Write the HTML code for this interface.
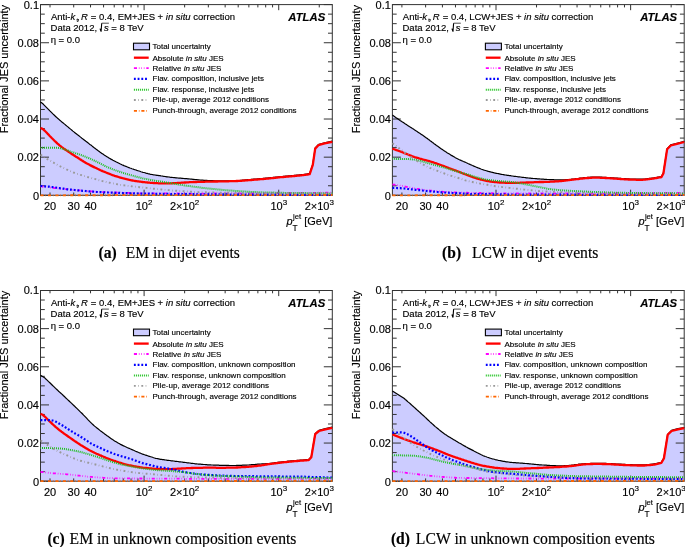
<!DOCTYPE html>
<html><head><meta charset="utf-8"><style>
html,body{margin:0;padding:0;background:#fff;width:685px;height:547px;overflow:hidden}
svg{display:block;will-change:transform}
text{stroke:#000;stroke-width:0.15px}
.h{}
</style></head><body>
<svg width="685" height="547" viewBox="0 0 685 547" font-family="'Liberation Sans', sans-serif" fill="#000">
<rect width="685" height="547" fill="#fff"/>
<g transform="translate(40.50,4.60)">
<path d="M0.0,97.5 2.4,99.2 3.4,100.2 4.4,101.2 5.4,102.2 6.4,103.2 7.4,104.2 8.4,105.2 9.4,106.3 10.4,107.3 11.4,108.3 12.4,109.3 13.4,110.2 14.4,111.2 15.4,112.1 16.4,113.0 17.4,113.9 18.4,114.8 19.4,115.7 20.4,116.5 21.4,117.4 22.4,118.2 23.4,119.0 24.4,119.8 25.4,120.7 26.4,121.5 27.4,122.3 28.4,123.2 29.4,124.0 30.4,124.8 31.4,125.6 32.4,126.5 33.4,127.3 34.4,128.1 35.4,128.9 36.4,129.7 37.4,130.5 38.4,131.2 39.4,132.0 40.4,132.8 41.4,133.6 42.4,134.3 43.4,135.1 44.4,135.9 45.4,136.7 46.4,137.4 47.4,138.2 48.4,139.0 49.4,139.8 50.4,140.5 51.4,141.3 52.4,142.1 53.4,142.9 54.4,143.6 55.4,144.4 56.4,145.1 57.4,145.9 58.4,146.6 59.4,147.4 60.4,148.1 61.4,148.8 62.4,149.5 63.4,150.2 64.4,150.8 65.4,151.5 66.4,152.1 67.4,152.7 68.4,153.3 69.4,153.9 70.4,154.5 71.4,155.0 72.4,155.6 73.4,156.1 74.4,156.6 75.4,157.2 76.4,157.7 77.4,158.2 78.4,158.7 79.4,159.2 80.4,159.6 81.4,160.1 82.4,160.5 83.4,161.0 84.4,161.4 85.4,161.8 86.4,162.2 87.4,162.6 88.4,163.0 89.4,163.4 90.4,163.7 91.4,164.1 92.4,164.4 93.4,164.8 94.4,165.1 95.4,165.4 96.4,165.8 97.4,166.1 98.4,166.4 99.4,166.7 100.4,167.1 101.4,167.4 102.4,167.7 103.4,167.9 104.4,168.2 105.4,168.5 106.4,168.7 107.4,169.0 108.4,169.2 109.4,169.5 110.4,169.7 111.4,169.9 112.4,170.1 113.4,170.2 114.4,170.4 115.4,170.5 116.4,170.7 117.4,170.8 118.4,171.0 119.4,171.1 120.4,171.3 121.4,171.4 122.4,171.6 123.4,171.7 124.4,171.9 125.4,172.0 126.4,172.2 127.4,172.3 128.4,172.4 129.4,172.6 130.4,172.7 131.4,172.8 132.4,172.9 133.4,173.0 134.4,173.1 135.4,173.2 136.4,173.3 137.4,173.4 138.4,173.5 139.4,173.6 140.4,173.6 141.4,173.7 142.4,173.8 143.4,173.9 144.4,174.0 145.4,174.1 146.4,174.1 147.4,174.2 148.4,174.3 149.4,174.4 150.4,174.5 151.4,174.6 152.4,174.7 153.4,174.8 154.4,174.9 155.4,175.0 156.4,175.1 157.4,175.2 158.4,175.3 159.4,175.4 160.4,175.5 161.4,175.5 162.4,175.6 163.4,175.7 164.4,175.7 165.4,175.8 166.4,175.8 167.4,175.9 168.4,175.9 169.4,176.0 170.4,176.0 171.4,176.1 172.4,176.1 173.4,176.1 174.4,176.2 175.4,176.2 176.4,176.2 177.4,176.2 178.4,176.2 179.4,176.2 180.4,176.3 181.4,176.3 182.4,176.3 183.4,176.3 184.4,176.3 185.4,176.3 186.4,176.3 187.4,176.3 188.4,176.2 189.4,176.2 190.4,176.2 191.4,176.2 192.4,176.1 193.4,176.1 194.4,176.1 195.4,176.1 196.4,176.0 197.4,176.0 197.9,176.0 198.9,175.9 199.9,175.8 200.9,175.7 201.9,175.6 202.9,175.5 203.9,175.4 204.9,175.3 205.9,175.2 206.9,175.1 207.9,175.1 208.9,175.0 209.9,174.9 210.9,174.8 211.9,174.7 212.9,174.6 213.9,174.5 214.9,174.5 215.9,174.4 216.9,174.3 217.9,174.2 218.9,174.1 219.9,174.1 220.9,174.0 221.9,173.9 222.9,173.8 223.9,173.7 224.9,173.6 225.9,173.5 226.9,173.4 227.9,173.3 228.9,173.2 229.9,173.1 230.9,173.0 231.9,172.9 232.9,172.8 233.9,172.7 234.9,172.6 235.9,172.5 236.9,172.4 237.9,172.3 238.9,172.2 239.9,172.1 240.9,172.0 241.9,171.9 242.9,171.8 243.9,171.7 244.9,171.6 245.9,171.5 246.9,171.4 247.9,171.3 248.9,171.3 249.9,171.2 250.9,171.1 251.9,171.0 252.9,170.9 253.9,170.8 254.9,170.7 255.9,170.6 256.9,170.5 257.9,170.4 258.9,170.3 259.9,170.2 260.9,170.1 261.9,170.0 262.9,169.9 263.9,169.7 264.9,169.6 265.9,169.4 266.9,169.3 267.9,169.1 268.9,169.0 269.2,168.9 272.3,159.6 274.7,143.4 277.9,140.0 284.1,138.2 291.8,136.6 L291.80,190.70 L0,190.70 Z" fill="#ccccff" stroke="none"/>
<rect x="0" y="0" width="291.80" height="190.70" fill="none" stroke="#333" stroke-width="1"/>
<path d="M0,190.70h8.50 M291.80,190.70h-8.50 M0,181.16h4.30 M291.80,181.16h-4.30 M0,171.63h4.30 M291.80,171.63h-4.30 M0,162.09h4.30 M291.80,162.09h-4.30 M0,152.56h8.50 M291.80,152.56h-8.50 M0,143.02h4.30 M291.80,143.02h-4.30 M0,133.49h4.30 M291.80,133.49h-4.30 M0,123.95h4.30 M291.80,123.95h-4.30 M0,114.42h8.50 M291.80,114.42h-8.50 M0,104.89h4.30 M291.80,104.89h-4.30 M0,95.35h4.30 M291.80,95.35h-4.30 M0,85.82h4.30 M291.80,85.82h-4.30 M0,76.28h8.50 M291.80,76.28h-8.50 M0,66.74h4.30 M291.80,66.74h-4.30 M0,57.21h4.30 M291.80,57.21h-4.30 M0,47.68h4.30 M291.80,47.68h-4.30 M0,38.14h8.50 M291.80,38.14h-8.50 M0,28.60h4.30 M291.80,28.60h-4.30 M0,19.07h4.30 M291.80,19.07h-4.30 M0,9.53h4.30 M291.80,9.53h-4.30 M0,0.00h8.50 M291.80,0.00h-8.50 M9.50,190.70v-2.80 M9.50,0v2.80 M33.21,190.70v-2.80 M33.21,0v2.80 M50.03,190.70v-2.80 M50.03,0v2.80 M63.07,190.70v-2.80 M63.07,0v2.80 M73.73,190.70v-2.80 M73.73,0v2.80 M82.75,190.70v-2.80 M82.75,0v2.80 M90.55,190.70v-2.80 M90.55,0v2.80 M97.44,190.70v-2.80 M97.44,0v2.80 M103.60,190.70v-5.60 M103.60,0v5.60 M144.13,190.70v-2.80 M144.13,0v2.80 M167.83,190.70v-2.80 M167.83,0v2.80 M184.65,190.70v-2.80 M184.65,0v2.80 M197.70,190.70v-2.80 M197.70,0v2.80 M208.36,190.70v-2.80 M208.36,0v2.80 M217.37,190.70v-2.80 M217.37,0v2.80 M225.18,190.70v-2.80 M225.18,0v2.80 M232.07,190.70v-2.80 M232.07,0v2.80 M238.23,190.70v-5.60 M238.23,0v5.60 M278.75,190.70v-2.80 M278.75,0v2.80" stroke="#333" stroke-width="1" fill="none"/>
<path d="M0.0,97.5 2.4,99.2 3.4,100.2 4.4,101.2 5.4,102.2 6.4,103.2 7.4,104.2 8.4,105.2 9.4,106.3 10.4,107.3 11.4,108.3 12.4,109.3 13.4,110.2 14.4,111.2 15.4,112.1 16.4,113.0 17.4,113.9 18.4,114.8 19.4,115.7 20.4,116.5 21.4,117.4 22.4,118.2 23.4,119.0 24.4,119.8 25.4,120.7 26.4,121.5 27.4,122.3 28.4,123.2 29.4,124.0 30.4,124.8 31.4,125.6 32.4,126.5 33.4,127.3 34.4,128.1 35.4,128.9 36.4,129.7 37.4,130.5 38.4,131.2 39.4,132.0 40.4,132.8 41.4,133.6 42.4,134.3 43.4,135.1 44.4,135.9 45.4,136.7 46.4,137.4 47.4,138.2 48.4,139.0 49.4,139.8 50.4,140.5 51.4,141.3 52.4,142.1 53.4,142.9 54.4,143.6 55.4,144.4 56.4,145.1 57.4,145.9 58.4,146.6 59.4,147.4 60.4,148.1 61.4,148.8 62.4,149.5 63.4,150.2 64.4,150.8 65.4,151.5 66.4,152.1 67.4,152.7 68.4,153.3 69.4,153.9 70.4,154.5 71.4,155.0 72.4,155.6 73.4,156.1 74.4,156.6 75.4,157.2 76.4,157.7 77.4,158.2 78.4,158.7 79.4,159.2 80.4,159.6 81.4,160.1 82.4,160.5 83.4,161.0 84.4,161.4 85.4,161.8 86.4,162.2 87.4,162.6 88.4,163.0 89.4,163.4 90.4,163.7 91.4,164.1 92.4,164.4 93.4,164.8 94.4,165.1 95.4,165.4 96.4,165.8 97.4,166.1 98.4,166.4 99.4,166.7 100.4,167.1 101.4,167.4 102.4,167.7 103.4,167.9 104.4,168.2 105.4,168.5 106.4,168.7 107.4,169.0 108.4,169.2 109.4,169.5 110.4,169.7 111.4,169.9 112.4,170.1 113.4,170.2 114.4,170.4 115.4,170.5 116.4,170.7 117.4,170.8 118.4,171.0 119.4,171.1 120.4,171.3 121.4,171.4 122.4,171.6 123.4,171.7 124.4,171.9 125.4,172.0 126.4,172.2 127.4,172.3 128.4,172.4 129.4,172.6 130.4,172.7 131.4,172.8 132.4,172.9 133.4,173.0 134.4,173.1 135.4,173.2 136.4,173.3 137.4,173.4 138.4,173.5 139.4,173.6 140.4,173.6 141.4,173.7 142.4,173.8 143.4,173.9 144.4,174.0 145.4,174.1 146.4,174.1 147.4,174.2 148.4,174.3 149.4,174.4 150.4,174.5 151.4,174.6 152.4,174.7 153.4,174.8 154.4,174.9 155.4,175.0 156.4,175.1 157.4,175.2 158.4,175.3 159.4,175.4 160.4,175.5 161.4,175.5 162.4,175.6 163.4,175.7 164.4,175.7 165.4,175.8 166.4,175.8 167.4,175.9 168.4,175.9 169.4,176.0 170.4,176.0 171.4,176.1 172.4,176.1 173.4,176.1 174.4,176.2 175.4,176.2 176.4,176.2 177.4,176.2 178.4,176.2 179.4,176.2 180.4,176.3 181.4,176.3 182.4,176.3 183.4,176.3 184.4,176.3 185.4,176.3 186.4,176.3 187.4,176.3 188.4,176.2 189.4,176.2 190.4,176.2 191.4,176.2 192.4,176.1 193.4,176.1 194.4,176.1 195.4,176.1 196.4,176.0 197.4,176.0 197.9,176.0 198.9,175.9 199.9,175.8 200.9,175.7 201.9,175.6 202.9,175.5 203.9,175.4 204.9,175.3 205.9,175.2 206.9,175.1 207.9,175.1 208.9,175.0 209.9,174.9 210.9,174.8 211.9,174.7 212.9,174.6 213.9,174.5 214.9,174.5 215.9,174.4 216.9,174.3 217.9,174.2 218.9,174.1 219.9,174.1 220.9,174.0 221.9,173.9 222.9,173.8 223.9,173.7 224.9,173.6 225.9,173.5 226.9,173.4 227.9,173.3 228.9,173.2 229.9,173.1 230.9,173.0 231.9,172.9 232.9,172.8 233.9,172.7 234.9,172.6 235.9,172.5 236.9,172.4 237.9,172.3 238.9,172.2 239.9,172.1 240.9,172.0 241.9,171.9 242.9,171.8 243.9,171.7 244.9,171.6 245.9,171.5 246.9,171.4 247.9,171.3 248.9,171.3 249.9,171.2 250.9,171.1 251.9,171.0 252.9,170.9 253.9,170.8 254.9,170.7 255.9,170.6 256.9,170.5 257.9,170.4 258.9,170.3 259.9,170.2 260.9,170.1 261.9,170.0 262.9,169.9 263.9,169.7 264.9,169.6 265.9,169.4 266.9,169.3 267.9,169.1 268.9,169.0 269.2,168.9 272.3,159.6 274.7,143.4 277.9,140.0 284.1,138.2 291.8,136.6" fill="none" stroke="#000" stroke-width="1.2"/>
<path d="M0.0,123.4 1.0,123.7 2.0,124.3 3.0,125.1 4.0,125.9 5.0,126.9 6.0,127.9 7.0,129.0 8.0,130.0 9.0,131.1 10.0,132.1 11.0,133.2 12.0,134.2 13.0,135.2 14.0,136.2 15.0,137.1 16.0,138.0 17.0,139.0 18.0,139.8 19.0,140.7 20.0,141.5 21.0,142.3 22.0,143.0 23.0,143.8 24.0,144.4 25.0,145.1 26.0,145.8 27.0,146.5 28.0,147.1 29.0,147.8 30.0,148.5 31.0,149.2 32.0,149.9 33.0,150.5 34.0,151.1 35.0,151.8 36.0,152.4 37.0,153.0 38.0,153.6 39.0,154.3 40.0,154.9 41.0,155.6 42.0,156.2 43.0,156.9 44.0,157.5 45.0,158.1 46.0,158.7 47.0,159.2 48.0,159.7 49.0,160.2 50.0,160.8 51.0,161.3 52.0,161.8 53.0,162.3 54.0,162.8 55.0,163.2 56.0,163.7 57.0,164.2 58.0,164.6 59.0,165.1 60.0,165.6 61.0,166.0 62.0,166.5 63.0,166.9 64.0,167.3 65.0,167.7 66.0,168.1 67.0,168.5 68.0,168.9 69.0,169.3 70.0,169.7 71.0,170.1 72.0,170.5 73.0,170.8 74.0,171.2 75.0,171.5 76.0,171.8 77.0,172.1 78.0,172.4 79.0,172.7 80.0,173.0 81.0,173.3 82.0,173.6 83.0,173.8 84.0,174.1 85.0,174.3 86.0,174.6 87.0,174.8 88.0,175.1 89.0,175.3 90.0,175.5 91.0,175.7 92.0,175.9 93.0,176.1 94.0,176.2 95.0,176.4 96.0,176.5 97.0,176.7 98.0,176.8 99.0,177.0 100.0,177.1 101.0,177.3 102.0,177.4 103.0,177.5 104.0,177.6 105.0,177.7 106.0,177.8 107.0,177.9 108.0,178.0 109.0,178.1 110.0,178.2 111.0,178.3 112.0,178.3 113.0,178.4 114.0,178.5 115.0,178.5 116.0,178.6 117.0,178.6 118.0,178.7 119.0,178.7 120.0,178.8 121.0,178.8 122.0,178.8 123.0,178.8 124.0,178.8 125.0,178.8 126.0,178.8 127.0,178.8 128.0,178.8 129.0,178.7 130.0,178.7 131.0,178.7 132.0,178.6 133.0,178.6 134.0,178.5 135.0,178.5 136.0,178.5 137.0,178.4 138.0,178.3 139.0,178.3 140.0,178.2 141.0,178.1 142.0,178.1 143.0,178.0 144.0,177.9 145.0,177.9 146.0,177.8 147.0,177.8 148.0,177.7 149.0,177.6 150.0,177.6 151.0,177.5 152.0,177.5 153.0,177.4 154.0,177.4 155.0,177.4 156.0,177.4 157.0,177.3 158.0,177.3 159.0,177.3 160.0,177.3 161.0,177.2 162.0,177.2 163.0,177.2 164.0,177.2 165.0,177.1 166.0,177.1 167.0,177.1 168.0,177.1 169.0,177.0 170.0,177.0 171.0,177.0 172.0,177.0 173.0,176.9 174.0,176.9 175.0,176.9 176.0,176.9 177.0,176.9 178.0,176.8 179.0,176.8 180.0,176.8 181.0,176.8 182.0,176.8 183.0,176.8 184.0,176.7 185.0,176.7 186.0,176.7 187.0,176.7 188.0,176.7 189.0,176.6 190.0,176.6 191.0,176.6 192.0,176.6 193.0,176.5 194.0,176.5 195.0,176.5 196.0,176.4 197.0,176.4 198.0,176.3 199.0,176.3 200.0,176.2 201.0,176.2 202.0,176.1 203.0,176.0 204.0,175.9 205.0,175.8 206.0,175.8 207.0,175.7 208.0,175.6 209.0,175.5 210.0,175.5 211.0,175.4 212.0,175.3 213.0,175.2 214.0,175.1 215.0,175.1 216.0,175.0 217.0,174.9 218.0,174.8 219.0,174.7 220.0,174.6 221.0,174.6 222.0,174.5 223.0,174.4 224.0,174.3 225.0,174.2 226.0,174.1 227.0,174.0 228.0,173.9 229.0,173.8 230.0,173.7 231.0,173.6 232.0,173.5 233.0,173.4 234.0,173.3 235.0,173.2 236.0,173.0 237.0,172.9 238.0,172.8 239.0,172.7 240.0,172.6 241.0,172.6 242.0,172.5 243.0,172.4 244.0,172.3 245.0,172.2 246.0,172.1 247.0,172.0 248.0,171.9 249.0,171.8 250.0,171.8 251.0,171.7 252.0,171.6 253.0,171.5 254.0,171.4 255.0,171.3 256.0,171.2 257.0,171.1 258.0,171.0 259.0,170.9 260.0,170.8 261.0,170.7 262.0,170.6 263.0,170.5 264.0,170.3 265.0,170.2 266.0,170.0 267.0,169.9 268.0,169.7 269.0,169.6 269.2,169.5 272.3,160.2 274.7,144.0 277.9,140.6 284.1,138.8 291.8,137.2" fill="none" stroke="#ff0000" stroke-width="2.30" stroke-linejoin="round"/>
<path d="M0.0,181.7 1.0,181.8 2.0,181.9 3.0,182.1 4.0,182.2 5.0,182.3 6.0,182.4 7.0,182.5 8.0,182.6 9.0,182.8 10.0,182.9 11.0,183.0 12.0,183.1 13.0,183.2 14.0,183.4 15.0,183.5 16.0,183.6 17.0,183.7 18.0,183.8 19.0,183.9 20.0,184.0 21.0,184.1 22.0,184.2 23.0,184.3 24.0,184.4 25.0,184.5 26.0,184.6 27.0,184.7 28.0,184.8 29.0,184.9 30.0,185.0 31.0,185.1 32.0,185.2 33.0,185.3 34.0,185.4 35.0,185.5 36.0,185.6 37.0,185.7 38.0,185.8 39.0,185.8 40.0,185.9 41.0,186.0 42.0,186.1 43.0,186.2 44.0,186.2 45.0,186.3 46.0,186.4 47.0,186.5 48.0,186.5 49.0,186.6 50.0,186.7 51.0,186.8 52.0,186.8 53.0,186.9 54.0,187.0 55.0,187.1 56.0,187.1 57.0,187.2 58.0,187.3 59.0,187.3 60.0,187.4 61.0,187.4 62.0,187.5 63.0,187.5 64.0,187.5 65.0,187.6 66.0,187.6 67.0,187.6 68.0,187.7 69.0,187.7 70.0,187.7 71.0,187.8 72.0,187.8 73.0,187.8 74.0,187.9 75.0,187.9 76.0,187.9 77.0,188.0 78.0,188.0 79.0,188.0 80.0,188.1 81.0,188.1 82.0,188.1 83.0,188.2 84.0,188.2 85.0,188.2 86.0,188.3 87.0,188.3 88.0,188.3 89.0,188.4 90.0,188.4 91.0,188.4 92.0,188.5 93.0,188.5 94.0,188.5 95.0,188.6 96.0,188.6 97.0,188.6 98.0,188.6 99.0,188.7 100.0,188.7 101.0,188.7 102.0,188.7 103.0,188.7 104.0,188.7 105.0,188.7 106.0,188.7 107.0,188.7 108.0,188.7 109.0,188.7 110.0,188.8 111.0,188.8 112.0,188.8 113.0,188.8 114.0,188.8 115.0,188.8 116.0,188.8 117.0,188.8 118.0,188.8 119.0,188.8 120.0,188.8 121.0,188.8 122.0,188.8 123.0,188.8 124.0,188.8 125.0,188.8 126.0,188.8 127.0,188.8 128.0,188.8 129.0,188.8 130.0,188.9 131.0,188.9 132.0,188.9 133.0,188.9 134.0,188.9 135.0,188.9 136.0,188.9 137.0,188.9 138.0,188.9 139.0,188.9 140.0,188.9 141.0,188.9 142.0,188.9 143.0,188.9 144.0,188.9 145.0,188.9 146.0,188.9 147.0,188.9 148.0,188.9 149.0,188.9 150.0,189.0 151.0,189.0 152.0,189.0 153.0,189.0 154.0,189.0 155.0,189.0 156.0,189.0 157.0,189.0 158.0,189.0 159.0,189.0 160.0,189.0 161.0,189.0 162.0,189.0 163.0,189.0 164.0,189.0 165.0,189.0 166.0,189.0 167.0,189.0 168.0,189.0 169.0,189.0 170.0,188.9 171.0,188.9 172.0,188.9 173.0,188.9 174.0,188.9 175.0,188.9 176.0,188.9 177.0,188.9 178.0,188.9 179.0,188.9 180.0,188.9 181.0,188.9 182.0,188.9 183.0,188.9 184.0,188.9 185.0,188.9 186.0,188.9 187.0,188.9 188.0,188.9 189.0,188.9 190.0,188.8 191.0,188.8 192.0,188.8 193.0,188.8 194.0,188.8 195.0,188.8 196.0,188.8 197.0,188.8 198.0,188.8 199.0,188.8 200.0,188.8 201.0,188.8 202.0,188.8 203.0,188.8 204.0,188.8 205.0,188.8 206.0,188.8 207.0,188.8 208.0,188.8 209.0,188.8 210.0,188.7 211.0,188.7 212.0,188.7 213.0,188.7 214.0,188.7 215.0,188.7 216.0,188.7 217.0,188.7 218.0,188.7 219.0,188.7 220.0,188.7 221.0,188.7 222.0,188.7 223.0,188.7 224.0,188.7 225.0,188.6 226.0,188.6 227.0,188.6 228.0,188.6 229.0,188.6 230.0,188.6 231.0,188.6 232.0,188.6 233.0,188.6 234.0,188.6 235.0,188.5 236.0,188.5 237.0,188.5 238.0,188.5 239.0,188.5 240.0,188.5 241.0,188.5 242.0,188.5 243.0,188.5 244.0,188.5 245.0,188.5 246.0,188.4 247.0,188.4 248.0,188.4 249.0,188.4 250.0,188.4 251.0,188.4 252.0,188.4 253.0,188.4 254.0,188.4 255.0,188.4 256.0,188.3 257.0,188.3 258.0,188.3 259.0,188.3 260.0,188.3 261.0,188.3 262.0,188.3 263.0,188.3 264.0,188.3 265.0,188.3 266.0,188.2 267.0,188.2 268.0,188.2 269.0,188.2 270.0,188.2 271.0,188.2 272.0,188.2 273.0,188.2 274.0,188.2 275.0,188.2 276.0,188.2 277.0,188.1 278.0,188.1 279.0,188.1 280.0,188.1 281.0,188.1 282.0,188.1 283.0,188.1 284.0,188.1 285.0,188.1 286.0,188.1 287.0,188.0 288.0,188.0 289.0,188.0 290.0,188.0 291.0,188.0 291.8,188.0" fill="none" stroke="#ff00ff" stroke-width="1.80" stroke-dasharray="3.10 1.86 0.62 1.86 0.62 1.86 0.62 1.86" stroke-linejoin="round"/>
<path d="M0.0,181.3 1.0,181.4 2.0,181.5 3.0,181.6 4.0,181.7 5.0,181.8 6.0,181.9 7.0,182.0 8.0,182.0 9.0,182.1 10.0,182.2 11.0,182.4 12.0,182.5 13.0,182.6 14.0,182.8 15.0,182.9 16.0,183.1 17.0,183.2 18.0,183.4 19.0,183.5 20.0,183.7 21.0,183.8 22.0,184.0 23.0,184.1 24.0,184.3 25.0,184.4 26.0,184.6 27.0,184.7 28.0,184.8 29.0,184.9 30.0,185.0 31.0,185.1 32.0,185.2 33.0,185.3 34.0,185.4 35.0,185.5 36.0,185.6 37.0,185.7 38.0,185.8 39.0,185.9 40.0,186.0 41.0,186.1 42.0,186.2 43.0,186.2 44.0,186.3 45.0,186.4 46.0,186.5 47.0,186.6 48.0,186.7 49.0,186.8 50.0,186.9 51.0,187.0 52.0,187.1 53.0,187.1 54.0,187.2 55.0,187.3 56.0,187.4 57.0,187.4 58.0,187.5 59.0,187.5 60.0,187.5 61.0,187.6 62.0,187.6 63.0,187.7 64.0,187.7 65.0,187.8 66.0,187.8 67.0,187.9 68.0,187.9 69.0,187.9 70.0,188.0 71.0,188.0 72.0,188.1 73.0,188.1 74.0,188.1 75.0,188.2 76.0,188.2 77.0,188.2 78.0,188.3 79.0,188.3 80.0,188.4 81.0,188.4 82.0,188.4 83.0,188.5 84.0,188.5 85.0,188.5 86.0,188.5 87.0,188.6 88.0,188.6 89.0,188.7 90.0,188.7 91.0,188.7 92.0,188.7 93.0,188.8 94.0,188.8 95.0,188.8 96.0,188.9 97.0,188.9 98.0,188.9 99.0,189.0 100.0,189.0 101.0,189.0 102.0,189.0 103.0,189.0 104.0,189.1 105.0,189.1 106.0,189.1 107.0,189.1 108.0,189.1 109.0,189.1 110.0,189.1 111.0,189.1 112.0,189.1 113.0,189.2 114.0,189.2 115.0,189.2 116.0,189.2 117.0,189.2 118.0,189.2 119.0,189.2 120.0,189.2 121.0,189.3 122.0,189.3 123.0,189.3 124.0,189.3 125.0,189.3 126.0,189.3 127.0,189.3 128.0,189.3 129.0,189.3 130.0,189.4 131.0,189.4 132.0,189.4 133.0,189.4 134.0,189.4 135.0,189.4 136.0,189.4 137.0,189.4 138.0,189.4 139.0,189.5 140.0,189.5 141.0,189.5 142.0,189.5 143.0,189.5 144.0,189.5 145.0,189.5 146.0,189.5 147.0,189.6 148.0,189.6 149.0,189.6 150.0,189.6 151.0,189.6 152.0,189.6 153.0,189.6 154.0,189.6 155.0,189.6 156.0,189.7 157.0,189.7 158.0,189.7 159.0,189.7 160.0,189.7 161.0,189.7 162.0,189.7 163.0,189.7 164.0,189.7 165.0,189.7 166.0,189.7 167.0,189.7 168.0,189.7 169.0,189.8 170.0,189.8 171.0,189.8 172.0,189.8 173.0,189.8 174.0,189.8 175.0,189.8 176.0,189.8 177.0,189.8 178.0,189.8 179.0,189.8 180.0,189.8 181.0,189.8 182.0,189.8 183.0,189.8 184.0,189.8 185.0,189.8 186.0,189.8 187.0,189.8 188.0,189.9 189.0,189.9 190.0,189.9 191.0,189.9 192.0,189.9 193.0,189.9 194.0,189.9 195.0,189.9 196.0,189.9 197.0,189.9 198.0,189.9 199.0,189.9 200.0,189.9 201.0,189.9 202.0,189.9 203.0,189.9 204.0,189.9 205.0,189.9 206.0,189.9 207.0,190.0 208.0,190.0 209.0,190.0 210.0,190.0 211.0,190.0 212.0,190.0 213.0,190.0 214.0,190.0 215.0,190.0 216.0,190.0 217.0,190.0 218.0,190.0 219.0,190.0 220.0,190.0 221.0,190.0 222.0,190.0 223.0,190.0 224.0,190.0 225.0,190.0 226.0,190.1 227.0,190.1 228.0,190.1 229.0,190.1 230.0,190.1 231.0,190.1 232.0,190.1 233.0,190.1 234.0,190.1 235.0,190.1 236.0,190.1 237.0,190.1 238.0,190.1 239.0,190.1 240.0,190.1 241.0,190.1 242.0,190.1 243.0,190.1 244.0,190.1 245.0,190.2 246.0,190.2 247.0,190.2 248.0,190.2 249.0,190.2 250.0,190.2 251.0,190.2 252.0,190.2 253.0,190.2 254.0,190.2 255.0,190.2 256.0,190.2 257.0,190.2 258.0,190.2 259.0,190.2 260.0,190.2 261.0,190.2 262.0,190.2 263.0,190.2 264.0,190.3 265.0,190.3 266.0,190.3 267.0,190.3 268.0,190.3 269.0,190.3 270.0,190.3 271.0,190.3 272.0,190.3 273.0,190.3 274.0,190.3 275.0,190.3 276.0,190.3 277.0,190.3 278.0,190.3 279.0,190.3 280.0,190.3 281.0,190.3 282.0,190.3 283.0,190.4 284.0,190.4 285.0,190.4 286.0,190.4 287.0,190.4 288.0,190.4 289.0,190.4 290.0,190.4 291.0,190.4 291.8,190.4" fill="none" stroke="#0000ff" stroke-width="2.20" stroke-dasharray="1.86 1.86" stroke-linejoin="round"/>
<path d="M0.0,143.1 1.0,143.1 2.0,143.1 3.0,143.1 4.0,143.1 5.0,143.1 6.0,143.1 7.0,143.1 8.0,143.1 9.0,143.1 10.0,143.2 11.0,143.2 12.0,143.2 13.0,143.2 14.0,143.2 15.0,143.2 16.0,143.2 17.0,143.2 18.0,143.3 19.0,143.4 20.0,143.6 21.0,143.8 22.0,144.1 23.0,144.4 24.0,144.8 25.0,145.2 26.0,145.5 27.0,145.9 28.0,146.2 29.0,146.6 30.0,146.9 31.0,147.3 32.0,147.6 33.0,147.9 34.0,148.2 35.0,148.6 36.0,148.9 37.0,149.2 38.0,149.6 39.0,149.9 40.0,150.3 41.0,150.6 42.0,151.0 43.0,151.4 44.0,151.7 45.0,152.1 46.0,152.6 47.0,153.0 48.0,153.4 49.0,153.9 50.0,154.3 51.0,154.8 52.0,155.2 53.0,155.7 54.0,156.1 55.0,156.6 56.0,157.1 57.0,157.6 58.0,158.1 59.0,158.6 60.0,159.1 61.0,159.6 62.0,160.1 63.0,160.6 64.0,161.1 65.0,161.5 66.0,162.0 67.0,162.4 68.0,162.9 69.0,163.3 70.0,163.7 71.0,164.2 72.0,164.6 73.0,165.0 74.0,165.3 75.0,165.7 76.0,166.1 77.0,166.4 78.0,166.8 79.0,167.1 80.0,167.5 81.0,167.8 82.0,168.1 83.0,168.4 84.0,168.7 85.0,169.0 86.0,169.3 87.0,169.6 88.0,169.9 89.0,170.2 90.0,170.5 91.0,170.7 92.0,171.0 93.0,171.3 94.0,171.6 95.0,171.8 96.0,172.1 97.0,172.4 98.0,172.6 99.0,172.9 100.0,173.2 101.0,173.4 102.0,173.7 103.0,173.9 104.0,174.1 105.0,174.3 106.0,174.5 107.0,174.7 108.0,174.9 109.0,175.1 110.0,175.3 111.0,175.5 112.0,175.6 113.0,175.8 114.0,176.0 115.0,176.1 116.0,176.3 117.0,176.5 118.0,176.6 119.0,176.8 120.0,176.9 121.0,177.1 122.0,177.2 123.0,177.3 124.0,177.5 125.0,177.6 126.0,177.8 127.0,177.9 128.0,178.1 129.0,178.2 130.0,178.4 131.0,178.6 132.0,178.8 133.0,179.0 134.0,179.2 135.0,179.3 136.0,179.5 137.0,179.7 138.0,179.9 139.0,180.0 140.0,180.2 141.0,180.3 142.0,180.5 143.0,180.6 144.0,180.8 145.0,180.9 146.0,181.1 147.0,181.2 148.0,181.4 149.0,181.5 150.0,181.6 151.0,181.8 152.0,181.9 153.0,182.0 154.0,182.2 155.0,182.3 156.0,182.4 157.0,182.6 158.0,182.7 159.0,182.9 160.0,183.0 161.0,183.1 162.0,183.3 163.0,183.4 164.0,183.5 165.0,183.6 166.0,183.7 167.0,183.8 168.0,183.9 169.0,184.0 170.0,184.1 171.0,184.2 172.0,184.3 173.0,184.4 174.0,184.5 175.0,184.6 176.0,184.7 177.0,184.8 178.0,184.9 179.0,185.0 180.0,185.1 181.0,185.2 182.0,185.3 183.0,185.4 184.0,185.5 185.0,185.6 186.0,185.7 187.0,185.7 188.0,185.8 189.0,185.9 190.0,186.0 191.0,186.0 192.0,186.1 193.0,186.2 194.0,186.2 195.0,186.3 196.0,186.4 197.0,186.4 198.0,186.5 199.0,186.6 200.0,186.6 201.0,186.7 202.0,186.8 203.0,186.8 204.0,186.9 205.0,187.0 206.0,187.1 207.0,187.1 208.0,187.2 209.0,187.2 210.0,187.3 211.0,187.3 212.0,187.4 213.0,187.4 214.0,187.5 215.0,187.5 216.0,187.6 217.0,187.6 218.0,187.6 219.0,187.7 220.0,187.7 221.0,187.7 222.0,187.8 223.0,187.8 224.0,187.8 225.0,187.8 226.0,187.9 227.0,187.9 228.0,187.9 229.0,187.9 230.0,187.9 231.0,188.0 232.0,188.0 233.0,188.0 234.0,188.0 235.0,188.1 236.0,188.1 237.0,188.1 238.0,188.1 239.0,188.2 240.0,188.2 241.0,188.2 242.0,188.2 243.0,188.2 244.0,188.3 245.0,188.3 246.0,188.3 247.0,188.3 248.0,188.4 249.0,188.4 250.0,188.4 251.0,188.4 252.0,188.4 253.0,188.4 254.0,188.4 255.0,188.5 256.0,188.5 257.0,188.5 258.0,188.5 259.0,188.5 260.0,188.5 261.0,188.5 262.0,188.5 263.0,188.5 264.0,188.5 265.0,188.5 266.0,188.6 267.0,188.6 268.0,188.6 269.0,188.6 270.0,188.6 271.0,188.6 272.0,188.6 273.0,188.6 274.0,188.6 275.0,188.6 276.0,188.7 277.0,188.7 278.0,188.7 279.0,188.7 280.0,188.7 281.0,188.7 282.0,188.7 283.0,188.7 284.0,188.7 285.0,188.7 286.0,188.7 287.0,188.8 288.0,188.8 289.0,188.8 290.0,188.8 291.0,188.8 291.8,188.8" fill="none" stroke="#1fc21f" stroke-width="2.00" stroke-dasharray="1 1" stroke-dashoffset="0.5" stroke-linejoin="round"/>
<path d="M0.0,150.0 1.0,150.7 2.0,151.4 3.0,152.0 4.0,152.7 5.0,153.4 6.0,154.0 7.0,154.6 8.0,155.2 9.0,155.8 10.0,156.3 11.0,156.9 12.0,157.4 13.0,158.0 14.0,158.6 15.0,159.2 16.0,159.7 17.0,160.3 18.0,160.8 19.0,161.4 20.0,161.9 21.0,162.4 22.0,162.9 23.0,163.4 24.0,163.8 25.0,164.3 26.0,164.8 27.0,165.2 28.0,165.7 29.0,166.1 30.0,166.6 31.0,167.0 32.0,167.4 33.0,167.9 34.0,168.3 35.0,168.7 36.0,169.1 37.0,169.4 38.0,169.7 39.0,170.0 40.0,170.3 41.0,170.6 42.0,170.9 43.0,171.2 44.0,171.5 45.0,171.8 46.0,172.1 47.0,172.4 48.0,172.7 49.0,172.9 50.0,173.2 51.0,173.5 52.0,173.8 53.0,174.1 54.0,174.3 55.0,174.6 56.0,174.9 57.0,175.2 58.0,175.5 59.0,175.7 60.0,176.0 61.0,176.3 62.0,176.5 63.0,176.8 64.0,177.0 65.0,177.2 66.0,177.5 67.0,177.7 68.0,177.9 69.0,178.1 70.0,178.3 71.0,178.5 72.0,178.7 73.0,178.9 74.0,179.1 75.0,179.3 76.0,179.5 77.0,179.7 78.0,179.8 79.0,180.0 80.0,180.2 81.0,180.3 82.0,180.5 83.0,180.6 84.0,180.8 85.0,180.9 86.0,181.0 87.0,181.2 88.0,181.3 89.0,181.4 90.0,181.5 91.0,181.7 92.0,181.8 93.0,181.9 94.0,182.0 95.0,182.1 96.0,182.2 97.0,182.3 98.0,182.4 99.0,182.6 100.0,182.7 101.0,182.8 102.0,182.9 103.0,183.0 104.0,183.1 105.0,183.2 106.0,183.3 107.0,183.5 108.0,183.6 109.0,183.7 110.0,183.8 111.0,183.9 112.0,184.0 113.0,184.1 114.0,184.2 115.0,184.3 116.0,184.4 117.0,184.5 118.0,184.6 119.0,184.7 120.0,184.8 121.0,184.9 122.0,185.0 123.0,185.1 124.0,185.2 125.0,185.3 126.0,185.4 127.0,185.4 128.0,185.5 129.0,185.6 130.0,185.7 131.0,185.8 132.0,185.9 133.0,185.9 134.0,186.0 135.0,186.1 136.0,186.1 137.0,186.2 138.0,186.3 139.0,186.4 140.0,186.4 141.0,186.5 142.0,186.6 143.0,186.6 144.0,186.7 145.0,186.8 146.0,186.9 147.0,186.9 148.0,187.0 149.0,187.1 150.0,187.1 151.0,187.2 152.0,187.3 153.0,187.3 154.0,187.4 155.0,187.4 156.0,187.5 157.0,187.5 158.0,187.5 159.0,187.5 160.0,187.6 161.0,187.6 162.0,187.6 163.0,187.7 164.0,187.7 165.0,187.7 166.0,187.7 167.0,187.8 168.0,187.8 169.0,187.8 170.0,187.8 171.0,187.9 172.0,187.9 173.0,187.9 174.0,188.0 175.0,188.0 176.0,188.0 177.0,188.0 178.0,188.1 179.0,188.1 180.0,188.1 181.0,188.1 182.0,188.1 183.0,188.2 184.0,188.2 185.0,188.2 186.0,188.2 187.0,188.2 188.0,188.2 189.0,188.2 190.0,188.3 191.0,188.3 192.0,188.3 193.0,188.3 194.0,188.3 195.0,188.3 196.0,188.3 197.0,188.4 198.0,188.4 199.0,188.4 200.0,188.4 201.0,188.4 202.0,188.4 203.0,188.5 204.0,188.5 205.0,188.5 206.0,188.5 207.0,188.5 208.0,188.5 209.0,188.5 210.0,188.6 211.0,188.6 212.0,188.6 213.0,188.6 214.0,188.6 215.0,188.6 216.0,188.6 217.0,188.7 218.0,188.7 219.0,188.7 220.0,188.7 221.0,188.7 222.0,188.7 223.0,188.7 224.0,188.7 225.0,188.7 226.0,188.7 227.0,188.8 228.0,188.8 229.0,188.8 230.0,188.8 231.0,188.8 232.0,188.8 233.0,188.8 234.0,188.8 235.0,188.8 236.0,188.8 237.0,188.8 238.0,188.8 239.0,188.8 240.0,188.8 241.0,188.8 242.0,188.9 243.0,188.9 244.0,188.9 245.0,188.9 246.0,188.9 247.0,188.9 248.0,188.9 249.0,188.9 250.0,188.9 251.0,188.9 252.0,188.9 253.0,188.9 254.0,188.9 255.0,188.9 256.0,189.0 257.0,189.0 258.0,189.0 259.0,189.0 260.0,189.0 261.0,189.0 262.0,189.0 263.0,189.0 264.0,189.0 265.0,189.0 266.0,189.0 267.0,189.0 268.0,189.0 269.0,189.0 270.0,189.0 271.0,189.1 272.0,189.1 273.0,189.1 274.0,189.1 275.0,189.1 276.0,189.1 277.0,189.1 278.0,189.1 279.0,189.1 280.0,189.1 281.0,189.1 282.0,189.1 283.0,189.1 284.0,189.1 285.0,189.2 286.0,189.2 287.0,189.2 288.0,189.2 289.0,189.2 290.0,189.2 291.0,189.2 291.8,189.2" fill="none" stroke="#999999" stroke-width="1.90" stroke-dasharray="1.86 2.48 0.62 2.48" stroke-linejoin="round"/>
<path d="M0.0,190.7 291.8,190.4" fill="none" stroke="#ff6600" stroke-width="1.80" stroke-dasharray="3.10 1.86 0.62 1.86" stroke-linejoin="round"/>
<text x="-1.50" y="195.30" font-size="11.00" text-anchor="end" >0</text>
<text x="-1.50" y="156.46" font-size="11.00" text-anchor="end" >0.02</text>
<text x="-1.50" y="118.32" font-size="11.00" text-anchor="end" >0.04</text>
<text x="-1.50" y="80.18" font-size="11.00" text-anchor="end" >0.06</text>
<text x="-1.50" y="42.04" font-size="11.00" text-anchor="end" >0.08</text>
<text x="-1.50" y="3.90" font-size="11.00" text-anchor="end" >0.1</text>
<text x="9.50" y="205.90" font-size="11.00" text-anchor="middle" >20</text>
<text x="33.21" y="205.90" font-size="11.00" text-anchor="middle" >30</text>
<text x="50.03" y="205.90" font-size="11.00" text-anchor="middle" >40</text>
<text x="103.60" y="205.90" font-size="11.00" text-anchor="middle">10<tspan dy="-5.2" font-size="8.00">2</tspan></text>
<text x="144.13" y="205.90" font-size="11.00" text-anchor="middle">2&#215;10<tspan dy="-5.2" font-size="8.00">2</tspan></text>
<text x="238.23" y="205.90" font-size="11.00" text-anchor="middle">10<tspan dy="-5.2" font-size="8.00">3</tspan></text>
<text x="278.75" y="205.90" font-size="11.00" text-anchor="middle">2&#215;10<tspan dy="-5.2" font-size="8.00">3</tspan></text>
<text x="291.80" y="220.1" font-size="11.00" text-anchor="end"><tspan font-style="italic">p</tspan><tspan font-size="8.3" dy="6.0">T</tspan><tspan font-size="7.7" dx="-4.7" dy="-11.6">jet</tspan><tspan dy="5.6"> [GeV]</tspan></text>
<text transform="translate(-32.3,0.3) rotate(-90)" font-size="11.00" text-anchor="end">Fractional JES uncertainty</text>
<text class="h" y="15.2" font-size="9.50"><tspan x="10.4">Anti-</tspan><tspan font-style="italic">k</tspan><tspan font-size="5.6" dx="1.2" dy="2.6">t</tspan><tspan dx="-1.0" dy="-2.6">,</tspan><tspan x="40.4" font-style="italic">R</tspan><tspan x="50.35">= 0.4,</tspan><tspan x="77.25">EM+JES + </tspan><tspan font-style="italic">in situ</tspan> correction</text>
<text class="h" y="26.9" font-size="9.50"><tspan x="10.1">Data 2012,</tspan><tspan x="63.4" font-style="italic">s</tspan> = 8 TeV</text>
<path d="M59.5,24.0 L60.6,27.0 L61.2,18.6" fill="none" stroke="#000" stroke-width="1.1"/>
<path d="M61.2,18.6 L68.4,18.6" fill="none" stroke="#000" stroke-width="0.7"/>
<text class="h" x="10.2" y="38.9" font-size="9.50">&#951; = 0.0</text>
<text x="284.70" y="16.7" font-size="11.30" font-weight="bold" font-style="italic" text-anchor="end">ATLAS</text>
<rect x="93.00" y="38.6" width="16" height="6.6" fill="#ccccff" stroke="#000" stroke-width="1.1"/>
<text x="112.00" y="44.30" font-size="8.00" text-anchor="start" >Total uncertainty</text>
<path d="M93.40,53.10H108.20" stroke="#ff0000" stroke-width="2.30"/>
<text x="112.00" y="56.20" font-size="8.00" text-anchor="start" >Absolute <tspan font-style="italic">in situ</tspan> JES</text>
<path d="M93.40,63.50H108.20" stroke="#ff00ff" stroke-width="1.80" stroke-dasharray="3.10 1.86 0.62 1.86 0.62 1.86 0.62 1.86"/>
<text x="112.00" y="66.70" font-size="8.00" text-anchor="start" >Relative <tspan font-style="italic">in situ</tspan> JES</text>
<path d="M93.40,74.30H108.20" stroke="#0000ff" stroke-width="2.20" stroke-dasharray="1.86 1.86"/>
<text x="112.00" y="76.70" font-size="8.00" text-anchor="start" >Flav. composition, inclusive jets</text>
<path d="M93.40,85.10H108.20" stroke="#1fc21f" stroke-width="2.00" stroke-dasharray="1 1"/>
<text x="112.00" y="87.20" font-size="8.00" text-anchor="start" >Flav. response, inclusive jets</text>
<path d="M93.40,95.40H108.20" stroke="#999999" stroke-width="1.90" stroke-dasharray="1.86 2.48 0.62 2.48"/>
<text x="112.00" y="97.70" font-size="8.00" text-anchor="start" >Pile-up, average 2012 conditions</text>
<path d="M93.40,106.20H108.20" stroke="#ff6600" stroke-width="1.80" stroke-dasharray="3.10 1.86 0.62 1.86"/>
<text x="112.00" y="108.10" font-size="8.00" text-anchor="start" >Punch-through, average 2012 conditions</text>
</g>
<g transform="translate(392.40,4.60)">
<path d="M0.0,110.5 1.0,111.2 2.0,111.9 3.0,112.6 4.0,113.3 5.0,114.0 6.0,114.7 7.0,115.4 8.0,116.1 9.0,116.7 10.0,117.4 11.0,118.0 12.0,118.7 13.0,119.4 14.0,120.0 15.0,120.7 16.0,121.3 17.0,122.0 18.0,122.6 19.0,123.2 20.0,123.9 21.0,124.5 22.0,125.2 23.0,125.8 24.0,126.5 25.0,127.1 26.0,127.8 27.0,128.5 28.0,129.1 29.0,129.8 30.0,130.5 31.0,131.2 32.0,131.9 33.0,132.6 34.0,133.3 35.0,134.0 36.0,134.8 37.0,135.5 38.0,136.3 39.0,137.0 40.0,137.8 41.0,138.5 42.0,139.3 43.0,140.0 44.0,140.8 45.0,141.5 46.0,142.2 47.0,142.9 48.0,143.6 49.0,144.3 50.0,145.0 51.0,145.7 52.0,146.3 53.0,147.0 54.0,147.6 55.0,148.3 56.0,148.9 57.0,149.5 58.0,150.1 59.0,150.8 60.0,151.3 61.0,151.9 62.0,152.5 63.0,153.1 64.0,153.6 65.0,154.1 66.0,154.6 67.0,155.1 68.0,155.5 69.0,156.0 70.0,156.4 71.0,156.9 72.0,157.3 73.0,157.7 74.0,158.2 75.0,158.6 76.0,159.1 77.0,159.5 78.0,160.0 79.0,160.4 80.0,160.9 81.0,161.3 82.0,161.8 83.0,162.2 84.0,162.6 85.0,163.0 86.0,163.4 87.0,163.8 88.0,164.2 89.0,164.6 90.0,164.9 91.0,165.3 92.0,165.6 93.0,165.9 94.0,166.2 95.0,166.5 96.0,166.8 97.0,167.0 98.0,167.3 99.0,167.6 100.0,167.8 101.0,168.0 102.0,168.3 103.0,168.5 104.0,168.7 105.0,168.9 106.0,169.1 107.0,169.3 108.0,169.5 109.0,169.7 110.0,169.9 111.0,170.0 112.0,170.2 113.0,170.4 114.0,170.5 115.0,170.7 116.0,170.8 117.0,171.0 118.0,171.1 119.0,171.3 120.0,171.4 121.0,171.6 122.0,171.7 123.0,171.8 124.0,171.9 125.0,172.1 126.0,172.2 127.0,172.3 128.0,172.4 129.0,172.6 130.0,172.7 131.0,172.8 132.0,172.9 133.0,173.0 134.0,173.2 135.0,173.3 136.0,173.4 137.0,173.5 138.0,173.6 139.0,173.7 140.0,173.8 141.0,173.9 142.0,173.9 143.0,174.0 144.0,174.1 145.0,174.2 146.0,174.3 147.0,174.3 148.0,174.4 149.0,174.5 150.0,174.6 151.0,174.6 152.0,174.7 153.0,174.8 154.0,174.8 155.0,174.9 156.0,174.9 157.0,175.0 158.0,175.0 159.0,175.1 160.0,175.1 161.0,175.1 162.0,175.2 163.0,175.2 164.0,175.3 165.0,175.3 166.0,175.3 167.0,175.3 168.0,175.3 169.0,175.3 170.0,175.3 171.0,175.2 172.0,175.2 173.0,175.1 174.0,175.1 175.0,175.0 176.0,175.0 177.0,174.9 177.4,174.9 178.4,174.8 179.4,174.6 180.4,174.5 181.4,174.4 182.4,174.3 183.4,174.1 184.4,174.0 185.4,173.9 186.4,173.8 187.4,173.6 188.4,173.5 189.4,173.4 190.4,173.3 191.4,173.1 192.4,173.0 193.4,173.0 194.4,172.9 195.4,172.8 196.4,172.8 197.4,172.7 198.4,172.6 199.4,172.6 200.4,172.5 201.4,172.5 202.4,172.5 203.4,172.5 204.4,172.5 205.4,172.5 206.4,172.5 207.4,172.6 208.4,172.6 209.4,172.6 210.4,172.7 211.4,172.7 212.4,172.7 213.4,172.8 214.4,172.9 215.4,172.9 216.4,173.0 217.4,173.1 218.4,173.1 219.4,173.2 220.4,173.3 221.4,173.3 222.4,173.4 223.4,173.5 224.4,173.6 225.4,173.6 226.4,173.7 227.4,173.8 228.4,173.8 229.4,173.9 230.4,173.9 231.4,174.0 232.4,174.1 233.4,174.1 234.4,174.2 235.4,174.3 236.4,174.3 237.4,174.4 238.4,174.4 239.4,174.4 240.4,174.5 241.4,174.5 242.4,174.5 243.4,174.5 244.4,174.6 245.4,174.6 246.4,174.6 247.4,174.6 248.4,174.6 249.4,174.6 250.4,174.5 251.4,174.5 252.4,174.4 253.4,174.3 254.4,174.2 255.4,174.0 256.4,173.9 257.4,173.8 258.4,173.7 259.4,173.5 260.4,173.4 261.4,173.3 262.4,173.1 263.4,172.9 264.4,172.8 265.4,172.6 266.4,172.4 267.4,172.2 268.4,172.0 269.1,171.8 271.0,168.3 274.7,144.1 278.4,140.3 284.6,138.7 291.9,136.8 L291.80,190.70 L0,190.70 Z" fill="#ccccff" stroke="none"/>
<rect x="0" y="0" width="291.80" height="190.70" fill="none" stroke="#333" stroke-width="1"/>
<path d="M0,190.70h8.50 M291.80,190.70h-8.50 M0,181.16h4.30 M291.80,181.16h-4.30 M0,171.63h4.30 M291.80,171.63h-4.30 M0,162.09h4.30 M291.80,162.09h-4.30 M0,152.56h8.50 M291.80,152.56h-8.50 M0,143.02h4.30 M291.80,143.02h-4.30 M0,133.49h4.30 M291.80,133.49h-4.30 M0,123.95h4.30 M291.80,123.95h-4.30 M0,114.42h8.50 M291.80,114.42h-8.50 M0,104.89h4.30 M291.80,104.89h-4.30 M0,95.35h4.30 M291.80,95.35h-4.30 M0,85.82h4.30 M291.80,85.82h-4.30 M0,76.28h8.50 M291.80,76.28h-8.50 M0,66.74h4.30 M291.80,66.74h-4.30 M0,57.21h4.30 M291.80,57.21h-4.30 M0,47.68h4.30 M291.80,47.68h-4.30 M0,38.14h8.50 M291.80,38.14h-8.50 M0,28.60h4.30 M291.80,28.60h-4.30 M0,19.07h4.30 M291.80,19.07h-4.30 M0,9.53h4.30 M291.80,9.53h-4.30 M0,0.00h8.50 M291.80,0.00h-8.50 M9.50,190.70v-2.80 M9.50,0v2.80 M33.21,190.70v-2.80 M33.21,0v2.80 M50.03,190.70v-2.80 M50.03,0v2.80 M63.07,190.70v-2.80 M63.07,0v2.80 M73.73,190.70v-2.80 M73.73,0v2.80 M82.75,190.70v-2.80 M82.75,0v2.80 M90.55,190.70v-2.80 M90.55,0v2.80 M97.44,190.70v-2.80 M97.44,0v2.80 M103.60,190.70v-5.60 M103.60,0v5.60 M144.13,190.70v-2.80 M144.13,0v2.80 M167.83,190.70v-2.80 M167.83,0v2.80 M184.65,190.70v-2.80 M184.65,0v2.80 M197.70,190.70v-2.80 M197.70,0v2.80 M208.36,190.70v-2.80 M208.36,0v2.80 M217.37,190.70v-2.80 M217.37,0v2.80 M225.18,190.70v-2.80 M225.18,0v2.80 M232.07,190.70v-2.80 M232.07,0v2.80 M238.23,190.70v-5.60 M238.23,0v5.60 M278.75,190.70v-2.80 M278.75,0v2.80" stroke="#333" stroke-width="1" fill="none"/>
<path d="M0.0,110.5 1.0,111.2 2.0,111.9 3.0,112.6 4.0,113.3 5.0,114.0 6.0,114.7 7.0,115.4 8.0,116.1 9.0,116.7 10.0,117.4 11.0,118.0 12.0,118.7 13.0,119.4 14.0,120.0 15.0,120.7 16.0,121.3 17.0,122.0 18.0,122.6 19.0,123.2 20.0,123.9 21.0,124.5 22.0,125.2 23.0,125.8 24.0,126.5 25.0,127.1 26.0,127.8 27.0,128.5 28.0,129.1 29.0,129.8 30.0,130.5 31.0,131.2 32.0,131.9 33.0,132.6 34.0,133.3 35.0,134.0 36.0,134.8 37.0,135.5 38.0,136.3 39.0,137.0 40.0,137.8 41.0,138.5 42.0,139.3 43.0,140.0 44.0,140.8 45.0,141.5 46.0,142.2 47.0,142.9 48.0,143.6 49.0,144.3 50.0,145.0 51.0,145.7 52.0,146.3 53.0,147.0 54.0,147.6 55.0,148.3 56.0,148.9 57.0,149.5 58.0,150.1 59.0,150.8 60.0,151.3 61.0,151.9 62.0,152.5 63.0,153.1 64.0,153.6 65.0,154.1 66.0,154.6 67.0,155.1 68.0,155.5 69.0,156.0 70.0,156.4 71.0,156.9 72.0,157.3 73.0,157.7 74.0,158.2 75.0,158.6 76.0,159.1 77.0,159.5 78.0,160.0 79.0,160.4 80.0,160.9 81.0,161.3 82.0,161.8 83.0,162.2 84.0,162.6 85.0,163.0 86.0,163.4 87.0,163.8 88.0,164.2 89.0,164.6 90.0,164.9 91.0,165.3 92.0,165.6 93.0,165.9 94.0,166.2 95.0,166.5 96.0,166.8 97.0,167.0 98.0,167.3 99.0,167.6 100.0,167.8 101.0,168.0 102.0,168.3 103.0,168.5 104.0,168.7 105.0,168.9 106.0,169.1 107.0,169.3 108.0,169.5 109.0,169.7 110.0,169.9 111.0,170.0 112.0,170.2 113.0,170.4 114.0,170.5 115.0,170.7 116.0,170.8 117.0,171.0 118.0,171.1 119.0,171.3 120.0,171.4 121.0,171.6 122.0,171.7 123.0,171.8 124.0,171.9 125.0,172.1 126.0,172.2 127.0,172.3 128.0,172.4 129.0,172.6 130.0,172.7 131.0,172.8 132.0,172.9 133.0,173.0 134.0,173.2 135.0,173.3 136.0,173.4 137.0,173.5 138.0,173.6 139.0,173.7 140.0,173.8 141.0,173.9 142.0,173.9 143.0,174.0 144.0,174.1 145.0,174.2 146.0,174.3 147.0,174.3 148.0,174.4 149.0,174.5 150.0,174.6 151.0,174.6 152.0,174.7 153.0,174.8 154.0,174.8 155.0,174.9 156.0,174.9 157.0,175.0 158.0,175.0 159.0,175.1 160.0,175.1 161.0,175.1 162.0,175.2 163.0,175.2 164.0,175.3 165.0,175.3 166.0,175.3 167.0,175.3 168.0,175.3 169.0,175.3 170.0,175.3 171.0,175.2 172.0,175.2 173.0,175.1 174.0,175.1 175.0,175.0 176.0,175.0 177.0,174.9 177.4,174.9 178.4,174.8 179.4,174.6 180.4,174.5 181.4,174.4 182.4,174.3 183.4,174.1 184.4,174.0 185.4,173.9 186.4,173.8 187.4,173.6 188.4,173.5 189.4,173.4 190.4,173.3 191.4,173.1 192.4,173.0 193.4,173.0 194.4,172.9 195.4,172.8 196.4,172.8 197.4,172.7 198.4,172.6 199.4,172.6 200.4,172.5 201.4,172.5 202.4,172.5 203.4,172.5 204.4,172.5 205.4,172.5 206.4,172.5 207.4,172.6 208.4,172.6 209.4,172.6 210.4,172.7 211.4,172.7 212.4,172.7 213.4,172.8 214.4,172.9 215.4,172.9 216.4,173.0 217.4,173.1 218.4,173.1 219.4,173.2 220.4,173.3 221.4,173.3 222.4,173.4 223.4,173.5 224.4,173.6 225.4,173.6 226.4,173.7 227.4,173.8 228.4,173.8 229.4,173.9 230.4,173.9 231.4,174.0 232.4,174.1 233.4,174.1 234.4,174.2 235.4,174.3 236.4,174.3 237.4,174.4 238.4,174.4 239.4,174.4 240.4,174.5 241.4,174.5 242.4,174.5 243.4,174.5 244.4,174.6 245.4,174.6 246.4,174.6 247.4,174.6 248.4,174.6 249.4,174.6 250.4,174.5 251.4,174.5 252.4,174.4 253.4,174.3 254.4,174.2 255.4,174.0 256.4,173.9 257.4,173.8 258.4,173.7 259.4,173.5 260.4,173.4 261.4,173.3 262.4,173.1 263.4,172.9 264.4,172.8 265.4,172.6 266.4,172.4 267.4,172.2 268.4,172.0 269.1,171.8 271.0,168.3 274.7,144.1 278.4,140.3 284.6,138.7 291.9,136.8" fill="none" stroke="#000" stroke-width="1.2"/>
<path d="M0.0,144.0 1.0,144.4 2.0,144.7 3.0,145.1 4.0,145.5 5.0,145.8 6.0,146.2 7.0,146.6 8.0,146.9 9.0,147.3 10.0,147.7 11.0,148.1 12.0,148.5 13.0,148.9 14.0,149.3 15.0,149.7 16.0,150.1 17.0,150.5 18.0,150.9 19.0,151.3 20.0,151.7 21.0,152.0 22.0,152.4 23.0,152.7 24.0,153.0 25.0,153.3 26.0,153.6 27.0,153.9 28.0,154.2 29.0,154.4 30.0,154.7 31.0,155.0 32.0,155.2 33.0,155.5 34.0,155.8 35.0,156.1 36.0,156.3 37.0,156.6 38.0,156.9 39.0,157.2 40.0,157.5 41.0,157.8 42.0,158.2 43.0,158.5 44.0,158.8 45.0,159.2 46.0,159.5 47.0,159.9 48.0,160.2 49.0,160.6 50.0,161.0 51.0,161.3 52.0,161.7 53.0,162.1 54.0,162.5 55.0,162.9 56.0,163.3 57.0,163.7 58.0,164.0 59.0,164.4 60.0,164.8 61.0,165.1 62.0,165.5 63.0,165.8 64.0,166.2 65.0,166.6 66.0,167.0 67.0,167.4 68.0,167.8 69.0,168.2 70.0,168.6 71.0,169.0 72.0,169.4 73.0,169.7 74.0,170.1 75.0,170.5 76.0,170.9 77.0,171.3 78.0,171.7 79.0,172.1 80.0,172.4 81.0,172.8 82.0,173.1 83.0,173.4 84.0,173.7 85.0,174.0 86.0,174.3 87.0,174.6 88.0,174.9 89.0,175.1 90.0,175.3 91.0,175.6 92.0,175.8 93.0,176.0 94.0,176.2 95.0,176.4 96.0,176.5 97.0,176.7 98.0,176.9 99.0,177.0 100.0,177.2 101.0,177.3 102.0,177.4 103.0,177.5 104.0,177.6 105.0,177.7 106.0,177.8 107.0,177.9 108.0,177.9 109.0,178.0 110.0,178.1 111.0,178.1 112.0,178.1 113.0,178.2 114.0,178.2 115.0,178.2 116.0,178.3 117.0,178.3 118.0,178.3 119.0,178.3 120.0,178.3 121.0,178.3 122.0,178.3 123.0,178.3 124.0,178.3 125.0,178.2 126.0,178.2 127.0,178.2 128.0,178.1 129.0,178.1 130.0,178.1 131.0,178.0 132.0,178.0 133.0,178.0 134.0,177.9 135.0,177.9 136.0,177.9 137.0,177.8 138.0,177.8 139.0,177.7 140.0,177.7 141.0,177.7 142.0,177.6 143.0,177.6 144.0,177.5 145.0,177.5 146.0,177.5 147.0,177.4 148.0,177.4 149.0,177.4 150.0,177.4 151.0,177.4 152.0,177.3 153.0,177.3 154.0,177.3 155.0,177.3 156.0,177.2 157.0,177.2 158.0,177.1 159.0,177.1 160.0,177.0 161.0,177.0 162.0,176.9 163.0,176.8 164.0,176.8 165.0,176.7 166.0,176.7 167.0,176.6 168.0,176.5 169.0,176.4 170.0,176.3 171.0,176.2 172.0,176.0 173.0,175.9 174.0,175.8 175.0,175.7 176.0,175.6 177.0,175.4 178.0,175.3 179.0,175.2 180.0,175.1 181.0,175.0 182.0,174.8 183.0,174.7 184.0,174.6 185.0,174.5 186.0,174.4 187.0,174.2 188.0,174.1 189.0,174.0 190.0,173.9 191.0,173.8 192.0,173.7 193.0,173.6 194.0,173.5 195.0,173.4 196.0,173.4 197.0,173.3 198.0,173.3 199.0,173.2 200.0,173.1 201.0,173.1 202.0,173.1 203.0,173.1 204.0,173.1 205.0,173.1 206.0,173.1 207.0,173.1 208.0,173.2 209.0,173.2 210.0,173.2 211.0,173.3 212.0,173.3 213.0,173.4 214.0,173.4 215.0,173.5 216.0,173.6 217.0,173.6 218.0,173.7 219.0,173.8 220.0,173.8 221.0,173.9 222.0,174.0 223.0,174.1 224.0,174.1 225.0,174.2 226.0,174.3 227.0,174.3 228.0,174.4 229.0,174.5 230.0,174.5 231.0,174.6 232.0,174.7 233.0,174.7 234.0,174.8 235.0,174.8 236.0,174.9 237.0,174.9 238.0,175.0 239.0,175.0 240.0,175.1 241.0,175.1 242.0,175.1 243.0,175.1 244.0,175.2 245.0,175.2 246.0,175.2 247.0,175.2 248.0,175.2 249.0,175.2 250.0,175.2 251.0,175.1 252.0,175.0 253.0,174.9 254.0,174.8 255.0,174.7 256.0,174.6 257.0,174.4 258.0,174.3 259.0,174.2 260.0,174.1 261.0,173.9 262.0,173.8 263.0,173.6 264.0,173.4 265.0,173.2 266.0,173.0 267.0,172.8 268.0,172.7 269.0,172.5 269.1,172.4 271.0,168.9 274.7,144.7 278.4,140.9 284.6,139.3 291.9,137.4" fill="none" stroke="#ff0000" stroke-width="2.30" stroke-linejoin="round"/>
<path d="M0.0,179.8 1.0,180.0 2.0,180.1 3.0,180.3 4.0,180.4 5.0,180.6 6.0,180.8 7.0,180.9 8.0,181.1 9.0,181.3 10.0,181.4 11.0,181.6 12.0,181.8 13.0,182.0 14.0,182.2 15.0,182.4 16.0,182.6 17.0,182.8 18.0,183.0 19.0,183.2 20.0,183.4 21.0,183.6 22.0,183.8 23.0,183.9 24.0,184.1 25.0,184.3 26.0,184.4 27.0,184.6 28.0,184.7 29.0,184.8 30.0,185.0 31.0,185.1 32.0,185.3 33.0,185.4 34.0,185.5 35.0,185.7 36.0,185.8 37.0,185.9 38.0,186.0 39.0,186.1 40.0,186.2 41.0,186.3 42.0,186.4 43.0,186.5 44.0,186.6 45.0,186.7 46.0,186.8 47.0,186.9 48.0,187.0 49.0,187.1 50.0,187.1 51.0,187.2 52.0,187.2 53.0,187.3 54.0,187.3 55.0,187.4 56.0,187.4 57.0,187.5 58.0,187.5 59.0,187.6 60.0,187.6 61.0,187.7 62.0,187.7 63.0,187.8 64.0,187.8 65.0,187.9 66.0,187.9 67.0,188.0 68.0,188.0 69.0,188.0 70.0,188.0 71.0,188.1 72.0,188.1 73.0,188.1 74.0,188.1 75.0,188.1 76.0,188.2 77.0,188.2 78.0,188.2 79.0,188.2 80.0,188.2 81.0,188.3 82.0,188.3 83.0,188.3 84.0,188.3 85.0,188.3 86.0,188.4 87.0,188.4 88.0,188.4 89.0,188.4 90.0,188.4 91.0,188.5 92.0,188.5 93.0,188.5 94.0,188.5 95.0,188.5 96.0,188.6 97.0,188.6 98.0,188.6 99.0,188.6 100.0,188.6 101.0,188.7 102.0,188.7 103.0,188.7 104.0,188.7 105.0,188.7 106.0,188.8 107.0,188.8 108.0,188.8 109.0,188.8 110.0,188.8 111.0,188.8 112.0,188.8 113.0,188.8 114.0,188.8 115.0,188.8 116.0,188.8 117.0,188.8 118.0,188.8 119.0,188.8 120.0,188.8 121.0,188.8 122.0,188.8 123.0,188.8 124.0,188.8 125.0,188.8 126.0,188.8 127.0,188.8 128.0,188.8 129.0,188.8 130.0,188.8 131.0,188.8 132.0,188.8 133.0,188.9 134.0,188.9 135.0,188.9 136.0,188.9 137.0,188.9 138.0,188.9 139.0,188.9 140.0,188.9 141.0,188.9 142.0,188.9 143.0,188.9 144.0,188.9 145.0,188.9 146.0,188.9 147.0,188.9 148.0,188.9 149.0,188.9 150.0,188.9 151.0,188.9 152.0,188.9 153.0,188.9 154.0,188.9 155.0,188.9 156.0,188.9 157.0,188.9 158.0,188.9 159.0,188.9 160.0,188.9 161.0,188.9 162.0,188.9 163.0,188.9 164.0,188.9 165.0,188.9 166.0,188.9 167.0,188.9 168.0,188.9 169.0,188.9 170.0,188.9 171.0,188.9 172.0,188.9 173.0,188.9 174.0,188.9 175.0,188.9 176.0,188.9 177.0,188.9 178.0,188.9 179.0,188.9 180.0,188.9 181.0,188.9 182.0,188.9 183.0,189.0 184.0,189.0 185.0,189.0 186.0,189.0 187.0,189.0 188.0,189.0 189.0,189.0 190.0,189.0 191.0,189.0 192.0,189.0 193.0,189.0 194.0,189.0 195.0,189.0 196.0,189.0 197.0,189.0 198.0,189.0 199.0,189.0 200.0,189.0 201.0,189.0 202.0,189.0 203.0,189.0 204.0,189.0 205.0,189.0 206.0,189.0 207.0,189.0 208.0,189.0 209.0,189.0 210.0,189.0 211.0,189.0 212.0,189.0 213.0,188.9 214.0,188.9 215.0,188.9 216.0,188.9 217.0,188.9 218.0,188.9 219.0,188.9 220.0,188.9 221.0,188.9 222.0,188.9 223.0,188.9 224.0,188.8 225.0,188.8 226.0,188.8 227.0,188.8 228.0,188.8 229.0,188.8 230.0,188.8 231.0,188.8 232.0,188.8 233.0,188.8 234.0,188.7 235.0,188.7 236.0,188.7 237.0,188.7 238.0,188.7 239.0,188.7 240.0,188.7 241.0,188.7 242.0,188.7 243.0,188.7 244.0,188.7 245.0,188.6 246.0,188.6 247.0,188.6 248.0,188.6 249.0,188.6 250.0,188.6 251.0,188.6 252.0,188.6 253.0,188.6 254.0,188.6 255.0,188.6 256.0,188.5 257.0,188.5 258.0,188.5 259.0,188.5 260.0,188.5 261.0,188.5 262.0,188.5 263.0,188.5 264.0,188.5 265.0,188.5 266.0,188.4 267.0,188.4 268.0,188.4 269.0,188.4 270.0,188.4 271.0,188.4 272.0,188.4 273.0,188.4 274.0,188.4 275.0,188.4 276.0,188.4 277.0,188.3 278.0,188.3 279.0,188.3 280.0,188.3 281.0,188.3 282.0,188.3 283.0,188.3 284.0,188.3 285.0,188.3 286.0,188.3 287.0,188.2 288.0,188.2 289.0,188.2 290.0,188.2 291.0,188.2 291.9,188.2" fill="none" stroke="#ff00ff" stroke-width="1.80" stroke-dasharray="3.10 1.86 0.62 1.86 0.62 1.86 0.62 1.86" stroke-linejoin="round"/>
<path d="M0.0,183.2 1.0,183.3 2.0,183.3 3.0,183.4 4.0,183.4 5.0,183.5 6.0,183.5 7.0,183.6 8.0,183.6 9.0,183.7 10.0,183.8 11.0,183.8 12.0,183.9 13.0,184.0 14.0,184.1 15.0,184.3 16.0,184.4 17.0,184.5 18.0,184.6 19.0,184.7 20.0,184.8 21.0,184.9 22.0,185.0 23.0,185.2 24.0,185.3 25.0,185.4 26.0,185.5 27.0,185.6 28.0,185.7 29.0,185.8 30.0,185.9 31.0,186.1 32.0,186.2 33.0,186.3 34.0,186.4 35.0,186.5 36.0,186.6 37.0,186.7 38.0,186.8 39.0,186.9 40.0,186.9 41.0,187.0 42.0,187.1 43.0,187.2 44.0,187.3 45.0,187.4 46.0,187.5 47.0,187.5 48.0,187.6 49.0,187.7 50.0,187.8 51.0,187.8 52.0,187.9 53.0,187.9 54.0,188.0 55.0,188.1 56.0,188.1 57.0,188.2 58.0,188.2 59.0,188.3 60.0,188.4 61.0,188.4 62.0,188.5 63.0,188.5 64.0,188.6 65.0,188.6 66.0,188.7 67.0,188.8 68.0,188.8 69.0,188.9 70.0,188.9 71.0,189.0 72.0,189.1 73.0,189.1 74.0,189.2 75.0,189.2 76.0,189.3 77.0,189.3 78.0,189.4 79.0,189.4 80.0,189.4 81.0,189.4 82.0,189.5 83.0,189.5 84.0,189.5 85.0,189.5 86.0,189.5 87.0,189.5 88.0,189.5 89.0,189.5 90.0,189.5 91.0,189.6 92.0,189.6 93.0,189.6 94.0,189.6 95.0,189.6 96.0,189.6 97.0,189.6 98.0,189.6 99.0,189.7 100.0,189.7 101.0,189.7 102.0,189.7 103.0,189.7 104.0,189.7 105.0,189.7 106.0,189.7 107.0,189.8 108.0,189.8 109.0,189.8 110.0,189.8 111.0,189.8 112.0,189.8 113.0,189.8 114.0,189.8 115.0,189.8 116.0,189.9 117.0,189.9 118.0,189.9 119.0,189.9 120.0,189.9 121.0,189.9 122.0,189.9 123.0,189.9 124.0,190.0 125.0,190.0 126.0,190.0 127.0,190.0 128.0,190.0 129.0,190.0 130.0,190.0 131.0,190.0 132.0,190.0 133.0,190.0 134.0,190.0 135.0,190.0 136.0,190.0 137.0,190.0 138.0,190.0 139.0,190.0 140.0,190.0 141.0,190.0 142.0,190.0 143.0,190.0 144.0,190.0 145.0,190.0 146.0,190.0 147.0,190.0 148.0,190.0 149.0,190.1 150.0,190.1 151.0,190.1 152.0,190.1 153.0,190.1 154.0,190.1 155.0,190.1 156.0,190.1 157.0,190.1 158.0,190.1 159.0,190.1 160.0,190.1 161.0,190.1 162.0,190.1 163.0,190.1 164.0,190.1 165.0,190.1 166.0,190.1 167.0,190.1 168.0,190.1 169.0,190.1 170.0,190.1 171.0,190.1 172.0,190.1 173.0,190.1 174.0,190.1 175.0,190.1 176.0,190.1 177.0,190.1 178.0,190.1 179.0,190.1 180.0,190.1 181.0,190.1 182.0,190.1 183.0,190.1 184.0,190.1 185.0,190.1 186.0,190.1 187.0,190.1 188.0,190.1 189.0,190.1 190.0,190.2 191.0,190.2 192.0,190.2 193.0,190.2 194.0,190.2 195.0,190.2 196.0,190.2 197.0,190.2 198.0,190.2 199.0,190.2 200.0,190.2 201.0,190.2 202.0,190.2 203.0,190.2 204.0,190.2 205.0,190.2 206.0,190.2 207.0,190.2 208.0,190.2 209.0,190.2 210.0,190.2 211.0,190.2 212.0,190.2 213.0,190.2 214.0,190.2 215.0,190.2 216.0,190.2 217.0,190.2 218.0,190.2 219.0,190.2 220.0,190.2 221.0,190.2 222.0,190.2 223.0,190.2 224.0,190.2 225.0,190.2 226.0,190.2 227.0,190.2 228.0,190.2 229.0,190.2 230.0,190.2 231.0,190.3 232.0,190.3 233.0,190.3 234.0,190.3 235.0,190.3 236.0,190.3 237.0,190.3 238.0,190.3 239.0,190.3 240.0,190.3 241.0,190.3 242.0,190.3 243.0,190.3 244.0,190.3 245.0,190.3 246.0,190.3 247.0,190.3 248.0,190.3 249.0,190.3 250.0,190.3 251.0,190.3 252.0,190.3 253.0,190.3 254.0,190.3 255.0,190.3 256.0,190.3 257.0,190.3 258.0,190.3 259.0,190.3 260.0,190.3 261.0,190.3 262.0,190.3 263.0,190.3 264.0,190.3 265.0,190.3 266.0,190.3 267.0,190.3 268.0,190.3 269.0,190.3 270.0,190.3 271.0,190.3 272.0,190.4 273.0,190.4 274.0,190.4 275.0,190.4 276.0,190.4 277.0,190.4 278.0,190.4 279.0,190.4 280.0,190.4 281.0,190.4 282.0,190.4 283.0,190.4 284.0,190.4 285.0,190.4 286.0,190.4 287.0,190.4 288.0,190.4 289.0,190.4 290.0,190.4 291.0,190.4 291.9,190.4" fill="none" stroke="#0000ff" stroke-width="2.20" stroke-dasharray="1.86 1.86" stroke-linejoin="round"/>
<path d="M0.0,154.2 1.0,154.2 2.0,154.2 3.0,154.2 4.0,154.3 5.0,154.3 6.0,154.3 7.0,154.3 8.0,154.3 9.0,154.3 10.0,154.3 11.0,154.3 12.0,154.4 13.0,154.4 14.0,154.4 15.0,154.4 16.0,154.5 17.0,154.5 18.0,154.6 19.0,154.7 20.0,154.8 21.0,154.9 22.0,155.0 23.0,155.2 24.0,155.4 25.0,155.6 26.0,155.8 27.0,156.0 28.0,156.3 29.0,156.6 30.0,156.8 31.0,157.1 32.0,157.4 33.0,157.7 34.0,158.1 35.0,158.4 36.0,158.7 37.0,159.0 38.0,159.2 39.0,159.5 40.0,159.8 41.0,160.1 42.0,160.3 43.0,160.6 44.0,160.9 45.0,161.1 46.0,161.4 47.0,161.7 48.0,161.9 49.0,162.2 50.0,162.5 51.0,162.8 52.0,163.1 53.0,163.3 54.0,163.6 55.0,164.0 56.0,164.3 57.0,164.6 58.0,164.9 59.0,165.2 60.0,165.5 61.0,165.9 62.0,166.2 63.0,166.5 64.0,166.8 65.0,167.1 66.0,167.4 67.0,167.7 68.0,167.9 69.0,168.1 70.0,168.4 71.0,168.6 72.0,168.9 73.0,169.1 74.0,169.4 75.0,169.7 76.0,170.0 77.0,170.4 78.0,170.7 79.0,171.0 80.0,171.4 81.0,171.7 82.0,172.0 83.0,172.3 84.0,172.6 85.0,172.9 86.0,173.2 87.0,173.5 88.0,173.8 89.0,174.0 90.0,174.2 91.0,174.5 92.0,174.7 93.0,174.9 94.0,175.1 95.0,175.2 96.0,175.4 97.0,175.5 98.0,175.6 99.0,175.7 100.0,175.8 101.0,175.9 102.0,176.0 103.0,176.1 104.0,176.2 105.0,176.3 106.0,176.4 107.0,176.5 108.0,176.6 109.0,176.7 110.0,176.8 111.0,176.8 112.0,176.9 113.0,177.0 114.0,177.0 115.0,177.1 116.0,177.1 117.0,177.2 118.0,177.3 119.0,177.4 120.0,177.5 121.0,177.6 122.0,177.7 123.0,177.9 124.0,178.0 125.0,178.2 126.0,178.4 127.0,178.6 128.0,178.7 129.0,178.9 130.0,179.1 131.0,179.3 132.0,179.5 133.0,179.7 134.0,179.9 135.0,180.1 136.0,180.3 137.0,180.5 138.0,180.7 139.0,180.9 140.0,181.1 141.0,181.3 142.0,181.5 143.0,181.7 144.0,181.9 145.0,182.1 146.0,182.3 147.0,182.5 148.0,182.7 149.0,182.9 150.0,183.1 151.0,183.3 152.0,183.5 153.0,183.7 154.0,183.9 155.0,184.1 156.0,184.3 157.0,184.4 158.0,184.5 159.0,184.6 160.0,184.8 161.0,184.9 162.0,185.0 163.0,185.1 164.0,185.2 165.0,185.3 166.0,185.4 167.0,185.5 168.0,185.6 169.0,185.7 170.0,185.7 171.0,185.8 172.0,185.9 173.0,185.9 174.0,186.0 175.0,186.0 176.0,186.1 177.0,186.1 178.0,186.2 179.0,186.2 180.0,186.3 181.0,186.3 182.0,186.4 183.0,186.4 184.0,186.5 185.0,186.5 186.0,186.6 187.0,186.6 188.0,186.7 189.0,186.7 190.0,186.8 191.0,186.8 192.0,186.9 193.0,186.9 194.0,187.0 195.0,187.0 196.0,187.1 197.0,187.1 198.0,187.2 199.0,187.2 200.0,187.3 201.0,187.3 202.0,187.4 203.0,187.4 204.0,187.5 205.0,187.5 206.0,187.5 207.0,187.6 208.0,187.6 209.0,187.6 210.0,187.7 211.0,187.7 212.0,187.7 213.0,187.8 214.0,187.8 215.0,187.8 216.0,187.9 217.0,187.9 218.0,187.9 219.0,188.0 220.0,188.0 221.0,188.0 222.0,188.1 223.0,188.1 224.0,188.1 225.0,188.1 226.0,188.1 227.0,188.2 228.0,188.2 229.0,188.2 230.0,188.2 231.0,188.2 232.0,188.2 233.0,188.2 234.0,188.3 235.0,188.3 236.0,188.3 237.0,188.3 238.0,188.3 239.0,188.3 240.0,188.3 241.0,188.4 242.0,188.4 243.0,188.4 244.0,188.4 245.0,188.4 246.0,188.4 247.0,188.4 248.0,188.5 249.0,188.5 250.0,188.5 251.0,188.5 252.0,188.5 253.0,188.5 254.0,188.5 255.0,188.6 256.0,188.6 257.0,188.6 258.0,188.6 259.0,188.6 260.0,188.6 261.0,188.6 262.0,188.6 263.0,188.6 264.0,188.6 265.0,188.6 266.0,188.6 267.0,188.7 268.0,188.7 269.0,188.7 270.0,188.7 271.0,188.7 272.0,188.7 273.0,188.7 274.0,188.7 275.0,188.7 276.0,188.7 277.0,188.7 278.0,188.7 279.0,188.7 280.0,188.7 281.0,188.7 282.0,188.7 283.0,188.7 284.0,188.8 285.0,188.8 286.0,188.8 287.0,188.8 288.0,188.8 289.0,188.8 290.0,188.8 291.0,188.8 291.9,188.8" fill="none" stroke="#1fc21f" stroke-width="2.00" stroke-dasharray="1 1" stroke-dashoffset="0.5" stroke-linejoin="round"/>
<path d="M0.0,138.7 1.0,139.4 2.0,140.1 3.0,140.9 4.0,141.6 5.0,142.4 6.0,143.1 7.0,143.9 8.0,144.7 9.0,145.5 10.0,146.2 11.0,147.0 12.0,147.8 13.0,148.5 14.0,149.2 15.0,149.9 16.0,150.6 17.0,151.3 18.0,152.0 19.0,152.6 20.0,153.3 21.0,154.0 22.0,154.7 23.0,155.4 24.0,156.0 25.0,156.6 26.0,157.2 27.0,157.8 28.0,158.4 29.0,159.0 30.0,159.5 31.0,160.1 32.0,160.6 33.0,161.2 34.0,161.7 35.0,162.2 36.0,162.6 37.0,163.1 38.0,163.5 39.0,163.9 40.0,164.3 41.0,164.7 42.0,165.1 43.0,165.5 44.0,165.8 45.0,166.2 46.0,166.6 47.0,167.0 48.0,167.4 49.0,167.8 50.0,168.2 51.0,168.6 52.0,168.9 53.0,169.3 54.0,169.6 55.0,170.0 56.0,170.3 57.0,170.7 58.0,171.0 59.0,171.3 60.0,171.6 61.0,171.9 62.0,172.2 63.0,172.5 64.0,172.8 65.0,173.1 66.0,173.4 67.0,173.7 68.0,174.1 69.0,174.4 70.0,174.7 71.0,175.1 72.0,175.4 73.0,175.8 74.0,176.1 75.0,176.3 76.0,176.6 77.0,176.8 78.0,177.0 79.0,177.2 80.0,177.4 81.0,177.6 82.0,177.8 83.0,178.0 84.0,178.2 85.0,178.4 86.0,178.6 87.0,178.8 88.0,179.0 89.0,179.1 90.0,179.3 91.0,179.5 92.0,179.7 93.0,179.9 94.0,180.0 95.0,180.2 96.0,180.4 97.0,180.6 98.0,180.7 99.0,180.9 100.0,181.1 101.0,181.3 102.0,181.4 103.0,181.6 104.0,181.7 105.0,181.9 106.0,182.0 107.0,182.1 108.0,182.2 109.0,182.3 110.0,182.5 111.0,182.6 112.0,182.7 113.0,182.8 114.0,182.9 115.0,183.1 116.0,183.2 117.0,183.3 118.0,183.4 119.0,183.5 120.0,183.7 121.0,183.8 122.0,183.9 123.0,184.0 124.0,184.1 125.0,184.2 126.0,184.4 127.0,184.5 128.0,184.6 129.0,184.7 130.0,184.8 131.0,184.9 132.0,185.0 133.0,185.1 134.0,185.2 135.0,185.3 136.0,185.4 137.0,185.5 138.0,185.6 139.0,185.7 140.0,185.8 141.0,185.9 142.0,186.0 143.0,186.1 144.0,186.2 145.0,186.3 146.0,186.4 147.0,186.5 148.0,186.6 149.0,186.6 150.0,186.7 151.0,186.7 152.0,186.8 153.0,186.8 154.0,186.9 155.0,186.9 156.0,187.0 157.0,187.0 158.0,187.1 159.0,187.1 160.0,187.1 161.0,187.2 162.0,187.2 163.0,187.3 164.0,187.3 165.0,187.4 166.0,187.4 167.0,187.4 168.0,187.5 169.0,187.5 170.0,187.6 171.0,187.6 172.0,187.7 173.0,187.7 174.0,187.7 175.0,187.8 176.0,187.8 177.0,187.9 178.0,187.9 179.0,187.9 180.0,187.9 181.0,188.0 182.0,188.0 183.0,188.0 184.0,188.0 185.0,188.0 186.0,188.1 187.0,188.1 188.0,188.1 189.0,188.1 190.0,188.1 191.0,188.2 192.0,188.2 193.0,188.2 194.0,188.2 195.0,188.2 196.0,188.3 197.0,188.3 198.0,188.3 199.0,188.3 200.0,188.3 201.0,188.4 202.0,188.4 203.0,188.4 204.0,188.4 205.0,188.4 206.0,188.5 207.0,188.5 208.0,188.5 209.0,188.5 210.0,188.5 211.0,188.6 212.0,188.6 213.0,188.6 214.0,188.6 215.0,188.6 216.0,188.7 217.0,188.7 218.0,188.7 219.0,188.7 220.0,188.7 221.0,188.8 222.0,188.8 223.0,188.8 224.0,188.8 225.0,188.8 226.0,188.9 227.0,188.9 228.0,188.9 229.0,188.9 230.0,188.9 231.0,188.9 232.0,188.9 233.0,188.9 234.0,188.9 235.0,189.0 236.0,189.0 237.0,189.0 238.0,189.0 239.0,189.0 240.0,189.0 241.0,189.0 242.0,189.0 243.0,189.0 244.0,189.0 245.0,189.0 246.0,189.0 247.0,189.1 248.0,189.1 249.0,189.1 250.0,189.1 251.0,189.1 252.0,189.1 253.0,189.1 254.0,189.1 255.0,189.1 256.0,189.1 257.0,189.1 258.0,189.1 259.0,189.1 260.0,189.2 261.0,189.2 262.0,189.2 263.0,189.2 264.0,189.2 265.0,189.2 266.0,189.2 267.0,189.2 268.0,189.2 269.0,189.2 270.0,189.2 271.0,189.2 272.0,189.2 273.0,189.3 274.0,189.3 275.0,189.3 276.0,189.3 277.0,189.3 278.0,189.3 279.0,189.3 280.0,189.3 281.0,189.3 282.0,189.3 283.0,189.3 284.0,189.3 285.0,189.3 286.0,189.4 287.0,189.4 288.0,189.4 289.0,189.4 290.0,189.4 291.0,189.4 291.9,189.4" fill="none" stroke="#999999" stroke-width="1.90" stroke-dasharray="1.86 2.48 0.62 2.48" stroke-linejoin="round"/>
<path d="M0.0,190.7 291.9,190.4" fill="none" stroke="#ff6600" stroke-width="1.80" stroke-dasharray="3.10 1.86 0.62 1.86" stroke-linejoin="round"/>
<text x="-1.50" y="195.30" font-size="11.00" text-anchor="end" >0</text>
<text x="-1.50" y="156.46" font-size="11.00" text-anchor="end" >0.02</text>
<text x="-1.50" y="118.32" font-size="11.00" text-anchor="end" >0.04</text>
<text x="-1.50" y="80.18" font-size="11.00" text-anchor="end" >0.06</text>
<text x="-1.50" y="42.04" font-size="11.00" text-anchor="end" >0.08</text>
<text x="-1.50" y="3.90" font-size="11.00" text-anchor="end" >0.1</text>
<text x="9.50" y="205.90" font-size="11.00" text-anchor="middle" >20</text>
<text x="33.21" y="205.90" font-size="11.00" text-anchor="middle" >30</text>
<text x="50.03" y="205.90" font-size="11.00" text-anchor="middle" >40</text>
<text x="103.60" y="205.90" font-size="11.00" text-anchor="middle">10<tspan dy="-5.2" font-size="8.00">2</tspan></text>
<text x="144.13" y="205.90" font-size="11.00" text-anchor="middle">2&#215;10<tspan dy="-5.2" font-size="8.00">2</tspan></text>
<text x="238.23" y="205.90" font-size="11.00" text-anchor="middle">10<tspan dy="-5.2" font-size="8.00">3</tspan></text>
<text x="278.75" y="205.90" font-size="11.00" text-anchor="middle">2&#215;10<tspan dy="-5.2" font-size="8.00">3</tspan></text>
<text x="291.80" y="220.1" font-size="11.00" text-anchor="end"><tspan font-style="italic">p</tspan><tspan font-size="8.3" dy="6.0">T</tspan><tspan font-size="7.7" dx="-4.7" dy="-11.6">jet</tspan><tspan dy="5.6"> [GeV]</tspan></text>
<text transform="translate(-32.3,0.3) rotate(-90)" font-size="11.00" text-anchor="end">Fractional JES uncertainty</text>
<text class="h" y="15.2" font-size="9.50"><tspan x="10.4">Anti-</tspan><tspan font-style="italic">k</tspan><tspan font-size="5.6" dx="1.2" dy="2.6">t</tspan><tspan dx="-1.0" dy="-2.6">,</tspan><tspan x="40.4" font-style="italic">R</tspan><tspan x="50.35">= 0.4,</tspan><tspan x="76.80">LCW+JES + </tspan><tspan font-style="italic">in situ</tspan> correction</text>
<text class="h" y="26.9" font-size="9.50"><tspan x="10.1">Data 2012,</tspan><tspan x="63.4" font-style="italic">s</tspan> = 8 TeV</text>
<path d="M59.5,24.0 L60.6,27.0 L61.2,18.6" fill="none" stroke="#000" stroke-width="1.1"/>
<path d="M61.2,18.6 L68.4,18.6" fill="none" stroke="#000" stroke-width="0.7"/>
<text class="h" x="10.2" y="38.9" font-size="9.50">&#951; = 0.0</text>
<text x="284.70" y="16.7" font-size="11.30" font-weight="bold" font-style="italic" text-anchor="end">ATLAS</text>
<rect x="93.00" y="38.6" width="16" height="6.6" fill="#ccccff" stroke="#000" stroke-width="1.1"/>
<text x="112.00" y="44.30" font-size="8.00" text-anchor="start" >Total uncertainty</text>
<path d="M93.40,53.10H108.20" stroke="#ff0000" stroke-width="2.30"/>
<text x="112.00" y="56.20" font-size="8.00" text-anchor="start" >Absolute <tspan font-style="italic">in situ</tspan> JES</text>
<path d="M93.40,63.50H108.20" stroke="#ff00ff" stroke-width="1.80" stroke-dasharray="3.10 1.86 0.62 1.86 0.62 1.86 0.62 1.86"/>
<text x="112.00" y="66.70" font-size="8.00" text-anchor="start" >Relative <tspan font-style="italic">in situ</tspan> JES</text>
<path d="M93.40,74.30H108.20" stroke="#0000ff" stroke-width="2.20" stroke-dasharray="1.86 1.86"/>
<text x="112.00" y="76.70" font-size="8.00" text-anchor="start" >Flav. composition, inclusive jets</text>
<path d="M93.40,85.10H108.20" stroke="#1fc21f" stroke-width="2.00" stroke-dasharray="1 1"/>
<text x="112.00" y="87.20" font-size="8.00" text-anchor="start" >Flav. response, inclusive jets</text>
<path d="M93.40,95.40H108.20" stroke="#999999" stroke-width="1.90" stroke-dasharray="1.86 2.48 0.62 2.48"/>
<text x="112.00" y="97.70" font-size="8.00" text-anchor="start" >Pile-up, average 2012 conditions</text>
<path d="M93.40,106.20H108.20" stroke="#ff6600" stroke-width="1.80" stroke-dasharray="3.10 1.86 0.62 1.86"/>
<text x="112.00" y="108.10" font-size="8.00" text-anchor="start" >Punch-through, average 2012 conditions</text>
</g>
<g transform="translate(40.50,290.50)">
<path d="M0.0,84.8 4.1,87.2 5.1,88.2 6.1,89.1 7.1,90.1 8.1,91.1 9.1,92.0 10.1,93.0 11.1,94.0 12.1,95.0 13.1,95.9 14.1,96.9 15.1,97.9 16.1,98.8 17.1,99.7 18.1,100.7 19.1,101.6 20.1,102.5 21.1,103.4 22.1,104.3 23.1,105.3 24.1,106.2 25.1,107.2 26.1,108.1 27.1,109.1 28.1,110.0 29.1,111.0 30.1,111.9 31.1,112.9 32.1,113.8 33.1,114.8 34.1,115.7 35.1,116.7 36.1,117.6 37.1,118.6 38.1,119.6 39.1,120.6 40.1,121.6 41.1,122.5 42.1,123.5 43.1,124.6 44.1,125.6 45.1,126.6 46.1,127.7 47.1,128.8 48.1,129.8 49.1,130.9 50.1,131.9 51.1,132.9 52.1,133.8 53.1,134.7 54.1,135.6 55.1,136.4 56.1,137.2 57.1,138.0 58.1,138.8 59.1,139.6 60.1,140.4 61.1,141.1 62.1,141.9 63.1,142.6 64.1,143.4 65.1,144.1 66.1,144.9 67.1,145.6 68.1,146.3 69.1,147.0 70.1,147.7 71.1,148.4 72.1,149.1 73.1,149.7 74.1,150.4 75.1,151.0 76.1,151.6 77.1,152.2 78.1,152.8 79.1,153.3 80.1,153.9 81.1,154.4 82.1,154.9 83.1,155.4 84.1,155.8 85.1,156.3 86.1,156.7 87.1,157.2 88.1,157.6 89.1,158.0 90.1,158.5 91.1,158.9 92.1,159.4 93.1,159.8 94.1,160.2 95.1,160.7 96.1,161.1 97.1,161.5 98.1,162.0 99.1,162.4 100.1,162.8 101.1,163.2 102.1,163.6 103.1,163.9 104.1,164.3 105.1,164.6 106.1,164.9 107.1,165.2 108.1,165.6 109.1,165.9 110.1,166.2 111.1,166.5 112.1,166.8 113.1,167.2 114.1,167.5 115.1,167.8 116.1,168.0 117.1,168.2 118.1,168.4 119.1,168.6 120.1,168.8 121.1,168.9 122.1,169.1 123.1,169.2 124.1,169.3 125.1,169.5 126.1,169.6 127.1,169.8 128.1,169.9 129.1,170.0 130.1,170.2 131.1,170.3 132.1,170.4 133.1,170.5 134.1,170.7 135.1,170.8 136.1,170.9 137.1,171.0 138.1,171.2 139.1,171.3 140.1,171.4 141.1,171.5 142.1,171.6 143.1,171.8 144.1,171.9 145.1,172.0 146.1,172.2 147.1,172.3 148.1,172.4 149.1,172.5 150.1,172.7 151.1,172.8 152.1,172.9 153.1,173.0 154.1,173.2 155.1,173.3 156.1,173.4 157.1,173.5 158.1,173.6 159.1,173.6 160.1,173.7 161.1,173.8 162.1,173.9 163.1,174.0 164.1,174.0 165.1,174.1 166.1,174.2 167.1,174.3 168.1,174.3 169.1,174.4 170.1,174.4 171.1,174.5 172.1,174.5 173.1,174.6 174.1,174.6 175.1,174.6 176.1,174.7 177.1,174.7 178.1,174.7 179.1,174.8 180.1,174.8 181.1,174.8 182.1,174.9 183.1,174.9 184.1,174.9 185.1,174.9 186.1,174.9 187.1,174.9 188.1,174.9 189.1,175.0 190.1,175.0 191.1,175.0 192.1,175.0 193.1,175.0 194.1,175.0 195.1,175.0 196.1,174.9 197.1,174.9 198.1,174.9 199.1,174.8 200.1,174.8 201.1,174.8 202.1,174.7 203.1,174.7 204.1,174.7 205.1,174.6 206.1,174.6 207.1,174.5 208.1,174.5 209.1,174.4 210.1,174.3 211.1,174.2 212.1,174.2 213.1,174.1 214.1,174.0 215.1,173.9 216.1,173.8 217.1,173.7 218.1,173.6 219.1,173.6 219.5,173.5 220.5,173.5 221.5,173.4 222.5,173.4 223.5,173.3 224.5,173.3 225.5,173.2 226.5,173.2 227.5,173.1 228.5,173.0 229.5,172.9 230.5,172.8 231.5,172.6 232.5,172.5 233.5,172.4 234.5,172.2 235.5,172.1 236.5,172.0 237.5,171.8 238.5,171.7 239.5,171.6 240.5,171.5 241.5,171.4 242.5,171.3 243.5,171.2 244.5,171.1 245.5,171.0 246.5,170.9 247.5,170.7 248.5,170.6 249.5,170.5 250.5,170.4 251.5,170.4 252.5,170.3 253.5,170.2 254.5,170.1 255.5,170.0 256.5,169.9 257.5,169.8 258.5,169.8 259.5,169.7 260.5,169.6 261.5,169.5 262.5,169.5 263.5,169.4 264.5,169.3 265.5,169.2 266.5,169.1 267.5,169.1 268.3,169.0 270.8,166.1 274.7,143.1 278.5,139.9 284.9,138.2 291.8,136.7 L291.80,190.70 L0,190.70 Z" fill="#ccccff" stroke="none"/>
<rect x="0" y="0" width="291.80" height="190.70" fill="none" stroke="#333" stroke-width="1"/>
<path d="M0,190.70h8.50 M291.80,190.70h-8.50 M0,181.16h4.30 M291.80,181.16h-4.30 M0,171.63h4.30 M291.80,171.63h-4.30 M0,162.09h4.30 M291.80,162.09h-4.30 M0,152.56h8.50 M291.80,152.56h-8.50 M0,143.02h4.30 M291.80,143.02h-4.30 M0,133.49h4.30 M291.80,133.49h-4.30 M0,123.95h4.30 M291.80,123.95h-4.30 M0,114.42h8.50 M291.80,114.42h-8.50 M0,104.89h4.30 M291.80,104.89h-4.30 M0,95.35h4.30 M291.80,95.35h-4.30 M0,85.82h4.30 M291.80,85.82h-4.30 M0,76.28h8.50 M291.80,76.28h-8.50 M0,66.74h4.30 M291.80,66.74h-4.30 M0,57.21h4.30 M291.80,57.21h-4.30 M0,47.68h4.30 M291.80,47.68h-4.30 M0,38.14h8.50 M291.80,38.14h-8.50 M0,28.60h4.30 M291.80,28.60h-4.30 M0,19.07h4.30 M291.80,19.07h-4.30 M0,9.53h4.30 M291.80,9.53h-4.30 M0,0.00h8.50 M291.80,0.00h-8.50 M9.50,190.70v-2.80 M9.50,0v2.80 M33.21,190.70v-2.80 M33.21,0v2.80 M50.03,190.70v-2.80 M50.03,0v2.80 M63.07,190.70v-2.80 M63.07,0v2.80 M73.73,190.70v-2.80 M73.73,0v2.80 M82.75,190.70v-2.80 M82.75,0v2.80 M90.55,190.70v-2.80 M90.55,0v2.80 M97.44,190.70v-2.80 M97.44,0v2.80 M103.60,190.70v-5.60 M103.60,0v5.60 M144.13,190.70v-2.80 M144.13,0v2.80 M167.83,190.70v-2.80 M167.83,0v2.80 M184.65,190.70v-2.80 M184.65,0v2.80 M197.70,190.70v-2.80 M197.70,0v2.80 M208.36,190.70v-2.80 M208.36,0v2.80 M217.37,190.70v-2.80 M217.37,0v2.80 M225.18,190.70v-2.80 M225.18,0v2.80 M232.07,190.70v-2.80 M232.07,0v2.80 M238.23,190.70v-5.60 M238.23,0v5.60 M278.75,190.70v-2.80 M278.75,0v2.80" stroke="#333" stroke-width="1" fill="none"/>
<path d="M0.0,84.8 4.1,87.2 5.1,88.2 6.1,89.1 7.1,90.1 8.1,91.1 9.1,92.0 10.1,93.0 11.1,94.0 12.1,95.0 13.1,95.9 14.1,96.9 15.1,97.9 16.1,98.8 17.1,99.7 18.1,100.7 19.1,101.6 20.1,102.5 21.1,103.4 22.1,104.3 23.1,105.3 24.1,106.2 25.1,107.2 26.1,108.1 27.1,109.1 28.1,110.0 29.1,111.0 30.1,111.9 31.1,112.9 32.1,113.8 33.1,114.8 34.1,115.7 35.1,116.7 36.1,117.6 37.1,118.6 38.1,119.6 39.1,120.6 40.1,121.6 41.1,122.5 42.1,123.5 43.1,124.6 44.1,125.6 45.1,126.6 46.1,127.7 47.1,128.8 48.1,129.8 49.1,130.9 50.1,131.9 51.1,132.9 52.1,133.8 53.1,134.7 54.1,135.6 55.1,136.4 56.1,137.2 57.1,138.0 58.1,138.8 59.1,139.6 60.1,140.4 61.1,141.1 62.1,141.9 63.1,142.6 64.1,143.4 65.1,144.1 66.1,144.9 67.1,145.6 68.1,146.3 69.1,147.0 70.1,147.7 71.1,148.4 72.1,149.1 73.1,149.7 74.1,150.4 75.1,151.0 76.1,151.6 77.1,152.2 78.1,152.8 79.1,153.3 80.1,153.9 81.1,154.4 82.1,154.9 83.1,155.4 84.1,155.8 85.1,156.3 86.1,156.7 87.1,157.2 88.1,157.6 89.1,158.0 90.1,158.5 91.1,158.9 92.1,159.4 93.1,159.8 94.1,160.2 95.1,160.7 96.1,161.1 97.1,161.5 98.1,162.0 99.1,162.4 100.1,162.8 101.1,163.2 102.1,163.6 103.1,163.9 104.1,164.3 105.1,164.6 106.1,164.9 107.1,165.2 108.1,165.6 109.1,165.9 110.1,166.2 111.1,166.5 112.1,166.8 113.1,167.2 114.1,167.5 115.1,167.8 116.1,168.0 117.1,168.2 118.1,168.4 119.1,168.6 120.1,168.8 121.1,168.9 122.1,169.1 123.1,169.2 124.1,169.3 125.1,169.5 126.1,169.6 127.1,169.8 128.1,169.9 129.1,170.0 130.1,170.2 131.1,170.3 132.1,170.4 133.1,170.5 134.1,170.7 135.1,170.8 136.1,170.9 137.1,171.0 138.1,171.2 139.1,171.3 140.1,171.4 141.1,171.5 142.1,171.6 143.1,171.8 144.1,171.9 145.1,172.0 146.1,172.2 147.1,172.3 148.1,172.4 149.1,172.5 150.1,172.7 151.1,172.8 152.1,172.9 153.1,173.0 154.1,173.2 155.1,173.3 156.1,173.4 157.1,173.5 158.1,173.6 159.1,173.6 160.1,173.7 161.1,173.8 162.1,173.9 163.1,174.0 164.1,174.0 165.1,174.1 166.1,174.2 167.1,174.3 168.1,174.3 169.1,174.4 170.1,174.4 171.1,174.5 172.1,174.5 173.1,174.6 174.1,174.6 175.1,174.6 176.1,174.7 177.1,174.7 178.1,174.7 179.1,174.8 180.1,174.8 181.1,174.8 182.1,174.9 183.1,174.9 184.1,174.9 185.1,174.9 186.1,174.9 187.1,174.9 188.1,174.9 189.1,175.0 190.1,175.0 191.1,175.0 192.1,175.0 193.1,175.0 194.1,175.0 195.1,175.0 196.1,174.9 197.1,174.9 198.1,174.9 199.1,174.8 200.1,174.8 201.1,174.8 202.1,174.7 203.1,174.7 204.1,174.7 205.1,174.6 206.1,174.6 207.1,174.5 208.1,174.5 209.1,174.4 210.1,174.3 211.1,174.2 212.1,174.2 213.1,174.1 214.1,174.0 215.1,173.9 216.1,173.8 217.1,173.7 218.1,173.6 219.1,173.6 219.5,173.5 220.5,173.5 221.5,173.4 222.5,173.4 223.5,173.3 224.5,173.3 225.5,173.2 226.5,173.2 227.5,173.1 228.5,173.0 229.5,172.9 230.5,172.8 231.5,172.6 232.5,172.5 233.5,172.4 234.5,172.2 235.5,172.1 236.5,172.0 237.5,171.8 238.5,171.7 239.5,171.6 240.5,171.5 241.5,171.4 242.5,171.3 243.5,171.2 244.5,171.1 245.5,171.0 246.5,170.9 247.5,170.7 248.5,170.6 249.5,170.5 250.5,170.4 251.5,170.4 252.5,170.3 253.5,170.2 254.5,170.1 255.5,170.0 256.5,169.9 257.5,169.8 258.5,169.8 259.5,169.7 260.5,169.6 261.5,169.5 262.5,169.5 263.5,169.4 264.5,169.3 265.5,169.2 266.5,169.1 267.5,169.1 268.3,169.0 270.8,166.1 274.7,143.1 278.5,139.9 284.9,138.2 291.8,136.7" fill="none" stroke="#000" stroke-width="1.2"/>
<path d="M0.0,123.4 1.0,123.8 2.0,124.2 3.0,125.0 4.0,125.8 5.0,126.7 6.0,127.7 7.0,128.7 8.0,129.7 9.0,130.7 10.0,131.7 11.0,132.6 12.0,133.6 13.0,134.5 14.0,135.4 15.0,136.3 16.0,137.1 17.0,138.0 18.0,138.8 19.0,139.7 20.0,140.4 21.0,141.2 22.0,141.9 23.0,142.7 24.0,143.4 25.0,144.1 26.0,144.8 27.0,145.5 28.0,146.2 29.0,146.9 30.0,147.6 31.0,148.3 32.0,149.0 33.0,149.7 34.0,150.4 35.0,151.0 36.0,151.7 37.0,152.4 38.0,153.1 39.0,153.7 40.0,154.4 41.0,155.0 42.0,155.6 43.0,156.2 44.0,156.8 45.0,157.4 46.0,158.0 47.0,158.6 48.0,159.2 49.0,159.8 50.0,160.3 51.0,160.8 52.0,161.3 53.0,161.8 54.0,162.3 55.0,162.7 56.0,163.2 57.0,163.6 58.0,164.0 59.0,164.5 60.0,164.9 61.0,165.4 62.0,165.8 63.0,166.2 64.0,166.6 65.0,167.1 66.0,167.5 67.0,167.9 68.0,168.2 69.0,168.6 70.0,169.0 71.0,169.3 72.0,169.7 73.0,170.1 74.0,170.4 75.0,170.7 76.0,171.1 77.0,171.4 78.0,171.8 79.0,172.1 80.0,172.4 81.0,172.7 82.0,173.0 83.0,173.3 84.0,173.6 85.0,173.8 86.0,174.1 87.0,174.3 88.0,174.6 89.0,174.8 90.0,175.0 91.0,175.2 92.0,175.4 93.0,175.6 94.0,175.8 95.0,176.0 96.0,176.2 97.0,176.4 98.0,176.5 99.0,176.7 100.0,176.9 101.0,177.0 102.0,177.1 103.0,177.3 104.0,177.4 105.0,177.4 106.0,177.5 107.0,177.6 108.0,177.7 109.0,177.8 110.0,177.9 111.0,178.0 112.0,178.1 113.0,178.2 114.0,178.3 115.0,178.3 116.0,178.4 117.0,178.5 118.0,178.5 119.0,178.5 120.0,178.5 121.0,178.6 122.0,178.6 123.0,178.6 124.0,178.6 125.0,178.6 126.0,178.6 127.0,178.7 128.0,178.7 129.0,178.6 130.0,178.6 131.0,178.6 132.0,178.5 133.0,178.5 134.0,178.4 135.0,178.4 136.0,178.3 137.0,178.2 138.0,178.2 139.0,178.1 140.0,178.1 141.0,178.0 142.0,177.9 143.0,177.9 144.0,177.8 145.0,177.8 146.0,177.7 147.0,177.7 148.0,177.7 149.0,177.6 150.0,177.6 151.0,177.5 152.0,177.5 153.0,177.4 154.0,177.4 155.0,177.4 156.0,177.3 157.0,177.3 158.0,177.3 159.0,177.3 160.0,177.3 161.0,177.3 162.0,177.3 163.0,177.2 164.0,177.2 165.0,177.2 166.0,177.2 167.0,177.2 168.0,177.2 169.0,177.2 170.0,177.2 171.0,177.2 172.0,177.2 173.0,177.2 174.0,177.2 175.0,177.2 176.0,177.3 177.0,177.3 178.0,177.3 179.0,177.3 180.0,177.3 181.0,177.3 182.0,177.3 183.0,177.3 184.0,177.3 185.0,177.3 186.0,177.2 187.0,177.2 188.0,177.2 189.0,177.2 190.0,177.2 191.0,177.2 192.0,177.1 193.0,177.1 194.0,177.1 195.0,177.1 196.0,177.0 197.0,177.0 198.0,176.9 199.0,176.9 200.0,176.8 201.0,176.7 202.0,176.7 203.0,176.6 204.0,176.6 205.0,176.5 206.0,176.4 207.0,176.4 208.0,176.3 209.0,176.2 210.0,176.1 211.0,176.0 212.0,175.9 213.0,175.8 214.0,175.7 215.0,175.6 216.0,175.5 217.0,175.4 218.0,175.2 219.0,175.1 220.0,175.0 221.0,174.8 222.0,174.7 223.0,174.5 224.0,174.4 225.0,174.2 226.0,174.0 227.0,173.9 228.0,173.7 229.0,173.6 230.0,173.4 231.0,173.3 232.0,173.2 233.0,173.0 234.0,172.9 235.0,172.8 236.0,172.6 237.0,172.5 238.0,172.4 239.0,172.3 240.0,172.1 241.0,172.0 242.0,171.9 243.0,171.8 244.0,171.7 245.0,171.6 246.0,171.5 247.0,171.4 248.0,171.3 249.0,171.2 250.0,171.1 251.0,171.0 252.0,170.9 253.0,170.8 254.0,170.7 255.0,170.6 256.0,170.6 257.0,170.5 258.0,170.4 259.0,170.3 260.0,170.2 261.0,170.2 262.0,170.1 263.0,170.0 264.0,169.9 265.0,169.9 266.0,169.8 267.0,169.7 268.0,169.6 268.3,169.6 270.8,166.7 274.7,143.7 278.5,140.5 284.9,138.8 291.8,137.3" fill="none" stroke="#ff0000" stroke-width="2.30" stroke-linejoin="round"/>
<path d="M0.0,181.4 1.0,181.5 2.0,181.6 3.0,181.7 4.0,181.8 5.0,181.9 6.0,182.0 7.0,182.1 8.0,182.3 9.0,182.4 10.0,182.5 11.0,182.6 12.0,182.7 13.0,182.8 14.0,182.8 15.0,182.9 16.0,183.0 17.0,183.1 18.0,183.2 19.0,183.3 20.0,183.3 21.0,183.4 22.0,183.5 23.0,183.5 24.0,183.6 25.0,183.7 26.0,183.8 27.0,183.9 28.0,184.0 29.0,184.1 30.0,184.2 31.0,184.3 32.0,184.4 33.0,184.5 34.0,184.7 35.0,184.8 36.0,184.9 37.0,185.0 38.0,185.1 39.0,185.2 40.0,185.3 41.0,185.4 42.0,185.5 43.0,185.6 44.0,185.7 45.0,185.8 46.0,185.9 47.0,186.1 48.0,186.1 49.0,186.2 50.0,186.3 51.0,186.4 52.0,186.5 53.0,186.6 54.0,186.7 55.0,186.8 56.0,186.9 57.0,186.9 58.0,187.0 59.0,187.0 60.0,187.1 61.0,187.2 62.0,187.2 63.0,187.3 64.0,187.3 65.0,187.4 66.0,187.4 67.0,187.5 68.0,187.5 69.0,187.6 70.0,187.7 71.0,187.7 72.0,187.7 73.0,187.8 74.0,187.8 75.0,187.8 76.0,187.8 77.0,187.8 78.0,187.8 79.0,187.9 80.0,187.9 81.0,187.9 82.0,187.9 83.0,187.9 84.0,187.9 85.0,187.9 86.0,187.9 87.0,187.9 88.0,187.9 89.0,187.9 90.0,187.9 91.0,188.0 92.0,188.0 93.0,188.0 94.0,188.0 95.0,188.0 96.0,188.0 97.0,188.0 98.0,188.0 99.0,188.0 100.0,188.0 101.0,188.0 102.0,188.1 103.0,188.1 104.0,188.1 105.0,188.1 106.0,188.1 107.0,188.1 108.0,188.1 109.0,188.1 110.0,188.1 111.0,188.1 112.0,188.1 113.0,188.1 114.0,188.2 115.0,188.2 116.0,188.2 117.0,188.2 118.0,188.2 119.0,188.2 120.0,188.2 121.0,188.2 122.0,188.2 123.0,188.2 124.0,188.2 125.0,188.2 126.0,188.2 127.0,188.2 128.0,188.2 129.0,188.2 130.0,188.2 131.0,188.2 132.0,188.2 133.0,188.2 134.0,188.2 135.0,188.2 136.0,188.2 137.0,188.2 138.0,188.2 139.0,188.2 140.0,188.2 141.0,188.2 142.0,188.2 143.0,188.3 144.0,188.3 145.0,188.3 146.0,188.3 147.0,188.3 148.0,188.3 149.0,188.3 150.0,188.3 151.0,188.3 152.0,188.3 153.0,188.3 154.0,188.3 155.0,188.3 156.0,188.3 157.0,188.3 158.0,188.3 159.0,188.3 160.0,188.3 161.0,188.3 162.0,188.3 163.0,188.3 164.0,188.3 165.0,188.3 166.0,188.3 167.0,188.3 168.0,188.3 169.0,188.3 170.0,188.3 171.0,188.3 172.0,188.3 173.0,188.3 174.0,188.3 175.0,188.3 176.0,188.3 177.0,188.3 178.0,188.3 179.0,188.3 180.0,188.3 181.0,188.3 182.0,188.3 183.0,188.3 184.0,188.3 185.0,188.3 186.0,188.3 187.0,188.3 188.0,188.4 189.0,188.4 190.0,188.4 191.0,188.4 192.0,188.4 193.0,188.4 194.0,188.4 195.0,188.4 196.0,188.4 197.0,188.4 198.0,188.4 199.0,188.4 200.0,188.4 201.0,188.4 202.0,188.4 203.0,188.4 204.0,188.4 205.0,188.4 206.0,188.4 207.0,188.4 208.0,188.4 209.0,188.4 210.0,188.4 211.0,188.4 212.0,188.4 213.0,188.4 214.0,188.4 215.0,188.4 216.0,188.4 217.0,188.4 218.0,188.4 219.0,188.4 220.0,188.4 221.0,188.4 222.0,188.4 223.0,188.4 224.0,188.4 225.0,188.4 226.0,188.4 227.0,188.4 228.0,188.4 229.0,188.4 230.0,188.4 231.0,188.3 232.0,188.3 233.0,188.3 234.0,188.3 235.0,188.3 236.0,188.3 237.0,188.3 238.0,188.3 239.0,188.3 240.0,188.3 241.0,188.3 242.0,188.3 243.0,188.3 244.0,188.3 245.0,188.3 246.0,188.3 247.0,188.3 248.0,188.3 249.0,188.3 250.0,188.3 251.0,188.3 252.0,188.3 253.0,188.3 254.0,188.3 255.0,188.3 256.0,188.3 257.0,188.3 258.0,188.3 259.0,188.3 260.0,188.3 261.0,188.3 262.0,188.3 263.0,188.3 264.0,188.3 265.0,188.3 266.0,188.3 267.0,188.3 268.0,188.3 269.0,188.3 270.0,188.3 271.0,188.3 272.0,188.2 273.0,188.2 274.0,188.2 275.0,188.2 276.0,188.2 277.0,188.2 278.0,188.2 279.0,188.2 280.0,188.2 281.0,188.2 282.0,188.2 283.0,188.2 284.0,188.2 285.0,188.2 286.0,188.2 287.0,188.2 288.0,188.2 289.0,188.2 290.0,188.2 291.0,188.2 291.8,188.2" fill="none" stroke="#ff00ff" stroke-width="1.80" stroke-dasharray="3.10 1.86 0.62 1.86 0.62 1.86 0.62 1.86" stroke-linejoin="round"/>
<path d="M0.0,129.6 1.0,129.6 2.0,129.6 3.0,129.6 4.0,129.6 5.0,129.6 6.0,129.6 7.0,129.6 8.0,129.6 9.0,129.6 10.0,129.7 11.0,129.8 12.0,130.0 13.0,130.3 14.0,130.6 15.0,131.1 16.0,131.6 17.0,132.1 18.0,132.7 19.0,133.3 20.0,133.8 21.0,134.4 22.0,135.0 23.0,135.6 24.0,136.2 25.0,136.9 26.0,137.5 27.0,138.1 28.0,138.8 29.0,139.5 30.0,140.1 31.0,140.8 32.0,141.4 33.0,142.0 34.0,142.6 35.0,143.2 36.0,143.7 37.0,144.3 38.0,144.9 39.0,145.5 40.0,146.1 41.0,146.8 42.0,147.4 43.0,148.0 44.0,148.7 45.0,149.3 46.0,150.0 47.0,150.6 48.0,151.3 49.0,151.9 50.0,152.6 51.0,153.2 52.0,153.7 53.0,154.3 54.0,154.8 55.0,155.3 56.0,155.8 57.0,156.2 58.0,156.7 59.0,157.2 60.0,157.6 61.0,158.1 62.0,158.5 63.0,158.9 64.0,159.4 65.0,159.8 66.0,160.2 67.0,160.7 68.0,161.1 69.0,161.5 70.0,161.9 71.0,162.3 72.0,162.7 73.0,163.1 74.0,163.5 75.0,163.8 76.0,164.2 77.0,164.5 78.0,164.8 79.0,165.2 80.0,165.5 81.0,165.8 82.0,166.1 83.0,166.4 84.0,166.7 85.0,166.9 86.0,167.2 87.0,167.5 88.0,167.8 89.0,168.0 90.0,168.3 91.0,168.6 92.0,169.0 93.0,169.3 94.0,169.7 95.0,170.1 96.0,170.4 97.0,170.8 98.0,171.2 99.0,171.6 100.0,171.9 101.0,172.3 102.0,172.6 103.0,172.8 104.0,173.1 105.0,173.4 106.0,173.6 107.0,173.9 108.0,174.1 109.0,174.4 110.0,174.6 111.0,174.9 112.0,175.1 113.0,175.4 114.0,175.6 115.0,175.9 116.0,176.1 117.0,176.3 118.0,176.5 119.0,176.7 120.0,176.8 121.0,177.0 122.0,177.1 123.0,177.3 124.0,177.4 125.0,177.6 126.0,177.8 127.0,177.9 128.0,178.1 129.0,178.3 130.0,178.5 131.0,178.7 132.0,178.9 133.0,179.1 134.0,179.3 135.0,179.6 136.0,179.8 137.0,180.0 138.0,180.2 139.0,180.5 140.0,180.7 141.0,180.9 142.0,181.1 143.0,181.3 144.0,181.5 145.0,181.7 146.0,181.9 147.0,182.0 148.0,182.2 149.0,182.4 150.0,182.5 151.0,182.7 152.0,182.9 153.0,183.0 154.0,183.2 155.0,183.3 156.0,183.4 157.0,183.5 158.0,183.6 159.0,183.7 160.0,183.8 161.0,183.9 162.0,183.9 163.0,184.0 164.0,184.1 165.0,184.1 166.0,184.2 167.0,184.3 168.0,184.3 169.0,184.4 170.0,184.5 171.0,184.5 172.0,184.6 173.0,184.6 174.0,184.7 175.0,184.8 176.0,184.8 177.0,184.9 178.0,185.0 179.0,185.0 180.0,185.1 181.0,185.1 182.0,185.2 183.0,185.2 184.0,185.2 185.0,185.3 186.0,185.3 187.0,185.3 188.0,185.3 189.0,185.4 190.0,185.4 191.0,185.4 192.0,185.4 193.0,185.4 194.0,185.5 195.0,185.5 196.0,185.5 197.0,185.5 198.0,185.5 199.0,185.5 200.0,185.6 201.0,185.6 202.0,185.6 203.0,185.6 204.0,185.6 205.0,185.6 206.0,185.6 207.0,185.6 208.0,185.7 209.0,185.7 210.0,185.7 211.0,185.7 212.0,185.7 213.0,185.7 214.0,185.7 215.0,185.7 216.0,185.8 217.0,185.8 218.0,185.8 219.0,185.8 220.0,185.8 221.0,185.8 222.0,185.8 223.0,185.8 224.0,185.8 225.0,185.8 226.0,185.8 227.0,185.9 228.0,185.9 229.0,185.9 230.0,185.9 231.0,185.9 232.0,185.9 233.0,185.9 234.0,185.9 235.0,185.9 236.0,185.9 237.0,185.9 238.0,185.9 239.0,185.9 240.0,186.0 241.0,186.0 242.0,186.0 243.0,186.0 244.0,186.0 245.0,186.0 246.0,186.0 247.0,186.0 248.0,186.0 249.0,186.0 250.0,186.0 251.0,186.0 252.0,186.0 253.0,186.1 254.0,186.1 255.0,186.1 256.0,186.1 257.0,186.1 258.0,186.1 259.0,186.1 260.0,186.1 261.0,186.2 262.0,186.2 263.0,186.2 264.0,186.2 265.0,186.3 266.0,186.3 267.0,186.3 268.0,186.4 269.0,186.4 270.0,186.4 271.0,186.5 272.0,186.5 273.0,186.5 274.0,186.5 275.0,186.6 276.0,186.6 277.0,186.6 278.0,186.7 279.0,186.7 280.0,186.7 281.0,186.8 282.0,186.8 283.0,186.8 284.0,186.9 285.0,186.9 286.0,186.9 287.0,187.0 288.0,187.0 289.0,187.0 290.0,187.0 291.0,187.1 291.8,187.1" fill="none" stroke="#0000ff" stroke-width="2.20" stroke-dasharray="1.86 1.86" stroke-linejoin="round"/>
<path d="M0.0,157.5 1.0,157.5 2.0,157.5 3.0,157.5 4.0,157.6 5.0,157.6 6.0,157.6 7.0,157.6 8.0,157.6 9.0,157.6 10.0,157.6 11.0,157.6 12.0,157.7 13.0,157.7 14.0,157.7 15.0,157.7 16.0,157.8 17.0,157.8 18.0,157.9 19.0,157.9 20.0,158.0 21.0,158.1 22.0,158.2 23.0,158.3 24.0,158.4 25.0,158.6 26.0,158.7 27.0,158.9 28.0,159.1 29.0,159.3 30.0,159.4 31.0,159.6 32.0,159.8 33.0,160.0 34.0,160.2 35.0,160.4 36.0,160.6 37.0,160.8 38.0,161.0 39.0,161.2 40.0,161.5 41.0,161.8 42.0,162.0 43.0,162.3 44.0,162.6 45.0,162.9 46.0,163.1 47.0,163.4 48.0,163.7 49.0,164.0 50.0,164.3 51.0,164.6 52.0,164.9 53.0,165.2 54.0,165.5 55.0,165.9 56.0,166.2 57.0,166.5 58.0,166.8 59.0,167.2 60.0,167.5 61.0,167.8 62.0,168.2 63.0,168.5 64.0,168.9 65.0,169.2 66.0,169.5 67.0,169.9 68.0,170.2 69.0,170.6 70.0,170.9 71.0,171.2 72.0,171.5 73.0,171.8 74.0,172.1 75.0,172.3 76.0,172.6 77.0,172.9 78.0,173.2 79.0,173.4 80.0,173.7 81.0,173.9 82.0,174.2 83.0,174.4 84.0,174.6 85.0,174.8 86.0,175.0 87.0,175.2 88.0,175.4 89.0,175.6 90.0,175.8 91.0,176.0 92.0,176.2 93.0,176.3 94.0,176.5 95.0,176.7 96.0,176.9 97.0,177.1 98.0,177.2 99.0,177.4 100.0,177.6 101.0,177.7 102.0,177.9 103.0,178.0 104.0,178.2 105.0,178.3 106.0,178.4 107.0,178.5 108.0,178.6 109.0,178.8 110.0,178.9 111.0,179.0 112.0,179.1 113.0,179.3 114.0,179.4 115.0,179.5 116.0,179.6 117.0,179.7 118.0,179.8 119.0,179.8 120.0,179.9 121.0,179.9 122.0,180.0 123.0,180.0 124.0,180.1 125.0,180.2 126.0,180.2 127.0,180.3 128.0,180.3 129.0,180.4 130.0,180.5 131.0,180.5 132.0,180.6 133.0,180.7 134.0,180.8 135.0,180.9 136.0,180.9 137.0,181.0 138.0,181.1 139.0,181.2 140.0,181.3 141.0,181.4 142.0,181.5 143.0,181.6 144.0,181.7 145.0,181.9 146.0,182.0 147.0,182.2 148.0,182.3 149.0,182.5 150.0,182.6 151.0,182.8 152.0,182.9 153.0,183.1 154.0,183.2 155.0,183.4 156.0,183.5 157.0,183.6 158.0,183.7 159.0,183.8 160.0,183.9 161.0,184.0 162.0,184.1 163.0,184.2 164.0,184.3 165.0,184.4 166.0,184.5 167.0,184.6 168.0,184.7 169.0,184.8 170.0,184.8 171.0,184.9 172.0,184.9 173.0,185.0 174.0,185.0 175.0,185.1 176.0,185.1 177.0,185.2 178.0,185.2 179.0,185.3 180.0,185.3 181.0,185.4 182.0,185.4 183.0,185.5 184.0,185.5 185.0,185.6 186.0,185.6 187.0,185.6 188.0,185.7 189.0,185.7 190.0,185.8 191.0,185.8 192.0,185.9 193.0,185.9 194.0,186.0 195.0,186.0 196.0,186.0 197.0,186.1 198.0,186.1 199.0,186.1 200.0,186.2 201.0,186.2 202.0,186.2 203.0,186.3 204.0,186.3 205.0,186.3 206.0,186.4 207.0,186.4 208.0,186.4 209.0,186.5 210.0,186.5 211.0,186.5 212.0,186.6 213.0,186.6 214.0,186.6 215.0,186.7 216.0,186.7 217.0,186.7 218.0,186.7 219.0,186.8 220.0,186.8 221.0,186.8 222.0,186.8 223.0,186.8 224.0,186.9 225.0,186.9 226.0,186.9 227.0,186.9 228.0,186.9 229.0,186.9 230.0,186.9 231.0,186.9 232.0,187.0 233.0,187.0 234.0,187.0 235.0,187.0 236.0,187.0 237.0,187.0 238.0,187.0 239.0,187.0 240.0,187.1 241.0,187.1 242.0,187.1 243.0,187.1 244.0,187.1 245.0,187.1 246.0,187.1 247.0,187.1 248.0,187.2 249.0,187.2 250.0,187.2 251.0,187.2 252.0,187.2 253.0,187.2 254.0,187.2 255.0,187.2 256.0,187.3 257.0,187.3 258.0,187.3 259.0,187.3 260.0,187.3 261.0,187.3 262.0,187.3 263.0,187.3 264.0,187.3 265.0,187.3 266.0,187.3 267.0,187.3 268.0,187.4 269.0,187.4 270.0,187.4 271.0,187.4 272.0,187.4 273.0,187.4 274.0,187.4 275.0,187.4 276.0,187.4 277.0,187.4 278.0,187.4 279.0,187.4 280.0,187.4 281.0,187.4 282.0,187.4 283.0,187.4 284.0,187.5 285.0,187.5 286.0,187.5 287.0,187.5 288.0,187.5 289.0,187.5 290.0,187.5 291.0,187.5 291.8,187.5" fill="none" stroke="#1fc21f" stroke-width="2.00" stroke-dasharray="1 1" stroke-dashoffset="0.5" stroke-linejoin="round"/>
<path d="M0.0,150.0 1.0,150.5 2.0,151.1 3.0,151.7 4.0,152.3 5.0,153.0 6.0,153.7 7.0,154.4 8.0,155.0 9.0,155.7 10.0,156.4 11.0,157.1 12.0,157.7 13.0,158.3 14.0,158.9 15.0,159.4 16.0,160.0 17.0,160.5 18.0,161.0 19.0,161.4 20.0,161.9 21.0,162.4 22.0,162.8 23.0,163.3 24.0,163.7 25.0,164.2 26.0,164.6 27.0,165.0 28.0,165.5 29.0,165.9 30.0,166.4 31.0,166.8 32.0,167.3 33.0,167.7 34.0,168.2 35.0,168.6 36.0,169.0 37.0,169.4 38.0,169.7 39.0,170.0 40.0,170.3 41.0,170.5 42.0,170.8 43.0,171.0 44.0,171.3 45.0,171.5 46.0,171.7 47.0,172.0 48.0,172.2 49.0,172.5 50.0,172.7 51.0,173.0 52.0,173.3 53.0,173.5 54.0,173.8 55.0,174.0 56.0,174.3 57.0,174.5 58.0,174.8 59.0,175.1 60.0,175.3 61.0,175.6 62.0,175.8 63.0,176.1 64.0,176.3 65.0,176.5 66.0,176.8 67.0,177.0 68.0,177.3 69.0,177.5 70.0,177.8 71.0,178.0 72.0,178.2 73.0,178.5 74.0,178.7 75.0,178.9 76.0,179.1 77.0,179.3 78.0,179.4 79.0,179.6 80.0,179.8 81.0,180.0 82.0,180.2 83.0,180.3 84.0,180.5 85.0,180.7 86.0,180.9 87.0,181.0 88.0,181.2 89.0,181.3 90.0,181.5 91.0,181.6 92.0,181.8 93.0,181.9 94.0,182.1 95.0,182.2 96.0,182.3 97.0,182.4 98.0,182.5 99.0,182.6 100.0,182.7 101.0,182.8 102.0,182.9 103.0,182.9 104.0,183.0 105.0,183.1 106.0,183.2 107.0,183.3 108.0,183.4 109.0,183.5 110.0,183.5 111.0,183.6 112.0,183.7 113.0,183.8 114.0,183.9 115.0,184.0 116.0,184.1 117.0,184.2 118.0,184.2 119.0,184.3 120.0,184.4 121.0,184.5 122.0,184.6 123.0,184.7 124.0,184.8 125.0,184.9 126.0,185.0 127.0,185.1 128.0,185.2 129.0,185.3 130.0,185.4 131.0,185.5 132.0,185.6 133.0,185.7 134.0,185.8 135.0,185.9 136.0,185.9 137.0,186.0 138.0,186.0 139.0,186.1 140.0,186.1 141.0,186.2 142.0,186.2 143.0,186.2 144.0,186.3 145.0,186.3 146.0,186.4 147.0,186.4 148.0,186.4 149.0,186.5 150.0,186.5 151.0,186.6 152.0,186.6 153.0,186.6 154.0,186.7 155.0,186.7 156.0,186.8 157.0,186.8 158.0,186.8 159.0,186.9 160.0,186.9 161.0,186.9 162.0,186.9 163.0,187.0 164.0,187.0 165.0,187.0 166.0,187.0 167.0,187.0 168.0,187.1 169.0,187.1 170.0,187.1 171.0,187.1 172.0,187.1 173.0,187.1 174.0,187.2 175.0,187.2 176.0,187.2 177.0,187.2 178.0,187.2 179.0,187.3 180.0,187.3 181.0,187.3 182.0,187.3 183.0,187.3 184.0,187.3 185.0,187.4 186.0,187.4 187.0,187.4 188.0,187.4 189.0,187.4 190.0,187.4 191.0,187.5 192.0,187.5 193.0,187.5 194.0,187.5 195.0,187.5 196.0,187.6 197.0,187.6 198.0,187.6 199.0,187.6 200.0,187.6 201.0,187.6 202.0,187.7 203.0,187.7 204.0,187.7 205.0,187.7 206.0,187.7 207.0,187.8 208.0,187.8 209.0,187.8 210.0,187.8 211.0,187.8 212.0,187.8 213.0,187.8 214.0,187.8 215.0,187.9 216.0,187.9 217.0,187.9 218.0,187.9 219.0,187.9 220.0,187.9 221.0,187.9 222.0,187.9 223.0,187.9 224.0,188.0 225.0,188.0 226.0,188.0 227.0,188.0 228.0,188.0 229.0,188.0 230.0,188.0 231.0,188.0 232.0,188.0 233.0,188.1 234.0,188.1 235.0,188.1 236.0,188.1 237.0,188.1 238.0,188.1 239.0,188.1 240.0,188.1 241.0,188.1 242.0,188.2 243.0,188.2 244.0,188.2 245.0,188.2 246.0,188.2 247.0,188.2 248.0,188.2 249.0,188.2 250.0,188.2 251.0,188.3 252.0,188.3 253.0,188.3 254.0,188.3 255.0,188.3 256.0,188.3 257.0,188.3 258.0,188.3 259.0,188.3 260.0,188.4 261.0,188.4 262.0,188.4 263.0,188.4 264.0,188.4 265.0,188.4 266.0,188.4 267.0,188.4 268.0,188.4 269.0,188.5 270.0,188.5 271.0,188.5 272.0,188.5 273.0,188.5 274.0,188.5 275.0,188.5 276.0,188.5 277.0,188.5 278.0,188.5 279.0,188.6 280.0,188.6 281.0,188.6 282.0,188.6 283.0,188.6 284.0,188.6 285.0,188.6 286.0,188.6 287.0,188.6 288.0,188.7 289.0,188.7 290.0,188.7 291.0,188.7 291.8,188.7" fill="none" stroke="#999999" stroke-width="1.90" stroke-dasharray="1.86 2.48 0.62 2.48" stroke-linejoin="round"/>
<path d="M0.0,190.7 291.8,190.4" fill="none" stroke="#ff6600" stroke-width="1.80" stroke-dasharray="3.10 1.86 0.62 1.86" stroke-linejoin="round"/>
<text x="-1.50" y="195.30" font-size="11.00" text-anchor="end" >0</text>
<text x="-1.50" y="156.46" font-size="11.00" text-anchor="end" >0.02</text>
<text x="-1.50" y="118.32" font-size="11.00" text-anchor="end" >0.04</text>
<text x="-1.50" y="80.18" font-size="11.00" text-anchor="end" >0.06</text>
<text x="-1.50" y="42.04" font-size="11.00" text-anchor="end" >0.08</text>
<text x="-1.50" y="3.90" font-size="11.00" text-anchor="end" >0.1</text>
<text x="9.50" y="205.90" font-size="11.00" text-anchor="middle" >20</text>
<text x="33.21" y="205.90" font-size="11.00" text-anchor="middle" >30</text>
<text x="50.03" y="205.90" font-size="11.00" text-anchor="middle" >40</text>
<text x="103.60" y="205.90" font-size="11.00" text-anchor="middle">10<tspan dy="-5.2" font-size="8.00">2</tspan></text>
<text x="144.13" y="205.90" font-size="11.00" text-anchor="middle">2&#215;10<tspan dy="-5.2" font-size="8.00">2</tspan></text>
<text x="238.23" y="205.90" font-size="11.00" text-anchor="middle">10<tspan dy="-5.2" font-size="8.00">3</tspan></text>
<text x="278.75" y="205.90" font-size="11.00" text-anchor="middle">2&#215;10<tspan dy="-5.2" font-size="8.00">3</tspan></text>
<text x="291.80" y="220.1" font-size="11.00" text-anchor="end"><tspan font-style="italic">p</tspan><tspan font-size="8.3" dy="6.0">T</tspan><tspan font-size="7.7" dx="-4.7" dy="-11.6">jet</tspan><tspan dy="5.6"> [GeV]</tspan></text>
<text transform="translate(-32.3,0.3) rotate(-90)" font-size="11.00" text-anchor="end">Fractional JES uncertainty</text>
<text class="h" y="15.2" font-size="9.50"><tspan x="10.4">Anti-</tspan><tspan font-style="italic">k</tspan><tspan font-size="5.6" dx="1.2" dy="2.6">t</tspan><tspan dx="-1.0" dy="-2.6">,</tspan><tspan x="40.4" font-style="italic">R</tspan><tspan x="50.35">= 0.4,</tspan><tspan x="77.25">EM+JES + </tspan><tspan font-style="italic">in situ</tspan> correction</text>
<text class="h" y="26.9" font-size="9.50"><tspan x="10.1">Data 2012,</tspan><tspan x="63.4" font-style="italic">s</tspan> = 8 TeV</text>
<path d="M59.5,24.0 L60.6,27.0 L61.2,18.6" fill="none" stroke="#000" stroke-width="1.1"/>
<path d="M61.2,18.6 L68.4,18.6" fill="none" stroke="#000" stroke-width="0.7"/>
<text class="h" x="10.2" y="38.9" font-size="9.50">&#951; = 0.0</text>
<text x="284.70" y="16.7" font-size="11.30" font-weight="bold" font-style="italic" text-anchor="end">ATLAS</text>
<rect x="93.00" y="38.6" width="16" height="6.6" fill="#ccccff" stroke="#000" stroke-width="1.1"/>
<text x="112.00" y="44.30" font-size="8.00" text-anchor="start" >Total uncertainty</text>
<path d="M93.40,53.10H108.20" stroke="#ff0000" stroke-width="2.30"/>
<text x="112.00" y="56.20" font-size="8.00" text-anchor="start" >Absolute <tspan font-style="italic">in situ</tspan> JES</text>
<path d="M93.40,63.50H108.20" stroke="#ff00ff" stroke-width="1.80" stroke-dasharray="3.10 1.86 0.62 1.86 0.62 1.86 0.62 1.86"/>
<text x="112.00" y="66.70" font-size="8.00" text-anchor="start" >Relative <tspan font-style="italic">in situ</tspan> JES</text>
<path d="M93.40,74.30H108.20" stroke="#0000ff" stroke-width="2.20" stroke-dasharray="1.86 1.86"/>
<text x="112.00" y="76.70" font-size="8.00" text-anchor="start" >Flav. composition, unknown composition</text>
<path d="M93.40,85.10H108.20" stroke="#1fc21f" stroke-width="2.00" stroke-dasharray="1 1"/>
<text x="112.00" y="87.20" font-size="8.00" text-anchor="start" >Flav. response, unknown composition</text>
<path d="M93.40,95.40H108.20" stroke="#999999" stroke-width="1.90" stroke-dasharray="1.86 2.48 0.62 2.48"/>
<text x="112.00" y="97.70" font-size="8.00" text-anchor="start" >Pile-up, average 2012 conditions</text>
<path d="M93.40,106.20H108.20" stroke="#ff6600" stroke-width="1.80" stroke-dasharray="3.10 1.86 0.62 1.86"/>
<text x="112.00" y="108.10" font-size="8.00" text-anchor="start" >Punch-through, average 2012 conditions</text>
</g>
<g transform="translate(392.40,290.50)">
<path d="M0.0,100.5 11.9,108.1 12.9,109.0 13.9,109.8 14.9,110.7 15.9,111.6 16.9,112.4 17.9,113.3 18.9,114.2 19.9,115.1 20.9,116.0 21.9,116.9 22.9,117.8 23.9,118.7 24.9,119.6 25.9,120.5 26.9,121.4 27.9,122.3 28.9,123.2 29.9,124.1 30.9,125.0 31.9,125.9 32.9,126.9 33.9,127.8 34.9,128.8 35.9,129.7 36.9,130.6 37.9,131.6 38.9,132.5 39.9,133.4 40.9,134.3 41.9,135.2 42.9,136.1 43.9,136.9 44.9,137.7 45.9,138.5 46.9,139.4 47.9,140.2 48.9,141.0 49.9,141.8 50.9,142.5 51.9,143.3 52.9,144.0 53.9,144.6 54.9,145.3 55.9,145.9 56.9,146.5 57.9,147.1 58.9,147.7 59.9,148.3 60.9,148.9 61.9,149.5 62.9,150.1 63.9,150.7 64.9,151.3 65.9,151.9 66.9,152.5 67.9,153.0 68.9,153.6 69.9,154.2 70.9,154.8 71.9,155.4 72.9,155.9 73.9,156.5 74.9,157.0 75.9,157.6 76.9,158.1 77.9,158.6 78.9,159.1 79.9,159.6 80.9,160.1 81.9,160.7 82.9,161.2 83.9,161.7 84.9,162.3 85.9,162.8 86.9,163.3 87.9,163.8 88.9,164.3 89.9,164.7 90.9,165.2 91.9,165.6 92.9,166.0 93.9,166.3 94.9,166.7 95.9,167.0 96.9,167.4 97.9,167.7 98.9,168.0 99.9,168.3 100.9,168.5 101.9,168.8 102.9,169.1 103.9,169.3 104.9,169.5 105.9,169.8 106.9,170.0 107.9,170.2 108.9,170.4 109.9,170.6 110.9,170.8 111.9,170.9 112.9,171.1 113.9,171.3 114.9,171.4 115.9,171.5 116.9,171.7 117.9,171.8 118.9,171.9 119.9,172.0 120.9,172.1 121.9,172.2 122.9,172.2 123.9,172.3 124.9,172.4 125.9,172.4 126.9,172.5 127.9,172.6 128.9,172.7 129.9,172.7 130.9,172.8 131.9,172.9 132.9,173.0 133.9,173.0 134.9,173.1 135.9,173.2 136.9,173.3 137.9,173.4 138.9,173.5 139.9,173.6 140.9,173.7 141.9,173.8 142.9,173.9 143.9,174.0 144.9,174.1 145.9,174.2 146.9,174.3 147.9,174.3 148.9,174.4 149.9,174.5 150.9,174.5 151.9,174.6 152.9,174.7 153.9,174.7 154.9,174.8 155.9,174.9 156.9,174.9 157.9,175.0 158.9,175.0 159.9,175.1 160.9,175.1 161.9,175.2 162.9,175.2 163.9,175.3 164.9,175.3 165.9,175.3 166.9,175.3 167.9,175.3 168.9,175.3 169.9,175.3 170.9,175.3 171.9,175.2 172.9,175.2 173.9,175.1 174.9,175.0 175.9,175.0 176.9,174.9 177.9,174.8 178.9,174.7 179.6,174.6 180.6,174.5 181.6,174.4 182.6,174.2 183.6,174.1 184.6,174.0 185.6,173.9 186.6,173.7 187.6,173.6 188.6,173.5 189.6,173.4 190.6,173.3 191.6,173.3 192.6,173.2 193.6,173.1 194.6,173.1 195.6,173.1 196.6,173.0 197.6,173.0 198.6,172.9 199.6,172.9 200.6,172.8 201.6,172.8 202.6,172.8 203.6,172.8 204.6,172.8 205.6,172.8 206.6,172.8 207.6,172.8 208.6,172.8 209.6,172.8 210.6,172.9 211.6,172.9 212.6,172.9 213.6,172.9 214.6,173.0 215.6,173.0 216.6,173.0 217.6,173.1 218.6,173.2 219.6,173.2 220.6,173.3 221.6,173.3 222.6,173.4 223.6,173.5 224.6,173.5 225.6,173.6 226.6,173.6 227.6,173.7 228.6,173.7 229.6,173.8 230.6,173.8 231.6,173.9 232.6,173.9 233.6,174.0 234.6,174.0 235.6,174.1 236.6,174.1 237.6,174.2 238.6,174.2 239.6,174.2 240.6,174.3 241.6,174.3 242.6,174.3 243.6,174.3 244.6,174.3 245.6,174.4 246.6,174.4 247.6,174.4 248.6,174.4 249.6,174.4 250.6,174.4 251.6,174.4 252.6,174.3 253.6,174.3 254.6,174.2 255.6,174.1 256.6,174.0 257.6,173.9 258.6,173.8 259.6,173.7 260.6,173.6 261.6,173.4 262.6,173.2 263.6,173.1 264.6,172.8 265.6,172.6 266.6,172.4 267.6,172.2 268.6,172.0 268.9,171.9 271.5,167.4 275.3,143.7 279.2,139.9 285.6,138.2 291.9,137.0 L291.80,190.70 L0,190.70 Z" fill="#ccccff" stroke="none"/>
<rect x="0" y="0" width="291.80" height="190.70" fill="none" stroke="#333" stroke-width="1"/>
<path d="M0,190.70h8.50 M291.80,190.70h-8.50 M0,181.16h4.30 M291.80,181.16h-4.30 M0,171.63h4.30 M291.80,171.63h-4.30 M0,162.09h4.30 M291.80,162.09h-4.30 M0,152.56h8.50 M291.80,152.56h-8.50 M0,143.02h4.30 M291.80,143.02h-4.30 M0,133.49h4.30 M291.80,133.49h-4.30 M0,123.95h4.30 M291.80,123.95h-4.30 M0,114.42h8.50 M291.80,114.42h-8.50 M0,104.89h4.30 M291.80,104.89h-4.30 M0,95.35h4.30 M291.80,95.35h-4.30 M0,85.82h4.30 M291.80,85.82h-4.30 M0,76.28h8.50 M291.80,76.28h-8.50 M0,66.74h4.30 M291.80,66.74h-4.30 M0,57.21h4.30 M291.80,57.21h-4.30 M0,47.68h4.30 M291.80,47.68h-4.30 M0,38.14h8.50 M291.80,38.14h-8.50 M0,28.60h4.30 M291.80,28.60h-4.30 M0,19.07h4.30 M291.80,19.07h-4.30 M0,9.53h4.30 M291.80,9.53h-4.30 M0,0.00h8.50 M291.80,0.00h-8.50 M9.50,190.70v-2.80 M9.50,0v2.80 M33.21,190.70v-2.80 M33.21,0v2.80 M50.03,190.70v-2.80 M50.03,0v2.80 M63.07,190.70v-2.80 M63.07,0v2.80 M73.73,190.70v-2.80 M73.73,0v2.80 M82.75,190.70v-2.80 M82.75,0v2.80 M90.55,190.70v-2.80 M90.55,0v2.80 M97.44,190.70v-2.80 M97.44,0v2.80 M103.60,190.70v-5.60 M103.60,0v5.60 M144.13,190.70v-2.80 M144.13,0v2.80 M167.83,190.70v-2.80 M167.83,0v2.80 M184.65,190.70v-2.80 M184.65,0v2.80 M197.70,190.70v-2.80 M197.70,0v2.80 M208.36,190.70v-2.80 M208.36,0v2.80 M217.37,190.70v-2.80 M217.37,0v2.80 M225.18,190.70v-2.80 M225.18,0v2.80 M232.07,190.70v-2.80 M232.07,0v2.80 M238.23,190.70v-5.60 M238.23,0v5.60 M278.75,190.70v-2.80 M278.75,0v2.80" stroke="#333" stroke-width="1" fill="none"/>
<path d="M0.0,100.5 11.9,108.1 12.9,109.0 13.9,109.8 14.9,110.7 15.9,111.6 16.9,112.4 17.9,113.3 18.9,114.2 19.9,115.1 20.9,116.0 21.9,116.9 22.9,117.8 23.9,118.7 24.9,119.6 25.9,120.5 26.9,121.4 27.9,122.3 28.9,123.2 29.9,124.1 30.9,125.0 31.9,125.9 32.9,126.9 33.9,127.8 34.9,128.8 35.9,129.7 36.9,130.6 37.9,131.6 38.9,132.5 39.9,133.4 40.9,134.3 41.9,135.2 42.9,136.1 43.9,136.9 44.9,137.7 45.9,138.5 46.9,139.4 47.9,140.2 48.9,141.0 49.9,141.8 50.9,142.5 51.9,143.3 52.9,144.0 53.9,144.6 54.9,145.3 55.9,145.9 56.9,146.5 57.9,147.1 58.9,147.7 59.9,148.3 60.9,148.9 61.9,149.5 62.9,150.1 63.9,150.7 64.9,151.3 65.9,151.9 66.9,152.5 67.9,153.0 68.9,153.6 69.9,154.2 70.9,154.8 71.9,155.4 72.9,155.9 73.9,156.5 74.9,157.0 75.9,157.6 76.9,158.1 77.9,158.6 78.9,159.1 79.9,159.6 80.9,160.1 81.9,160.7 82.9,161.2 83.9,161.7 84.9,162.3 85.9,162.8 86.9,163.3 87.9,163.8 88.9,164.3 89.9,164.7 90.9,165.2 91.9,165.6 92.9,166.0 93.9,166.3 94.9,166.7 95.9,167.0 96.9,167.4 97.9,167.7 98.9,168.0 99.9,168.3 100.9,168.5 101.9,168.8 102.9,169.1 103.9,169.3 104.9,169.5 105.9,169.8 106.9,170.0 107.9,170.2 108.9,170.4 109.9,170.6 110.9,170.8 111.9,170.9 112.9,171.1 113.9,171.3 114.9,171.4 115.9,171.5 116.9,171.7 117.9,171.8 118.9,171.9 119.9,172.0 120.9,172.1 121.9,172.2 122.9,172.2 123.9,172.3 124.9,172.4 125.9,172.4 126.9,172.5 127.9,172.6 128.9,172.7 129.9,172.7 130.9,172.8 131.9,172.9 132.9,173.0 133.9,173.0 134.9,173.1 135.9,173.2 136.9,173.3 137.9,173.4 138.9,173.5 139.9,173.6 140.9,173.7 141.9,173.8 142.9,173.9 143.9,174.0 144.9,174.1 145.9,174.2 146.9,174.3 147.9,174.3 148.9,174.4 149.9,174.5 150.9,174.5 151.9,174.6 152.9,174.7 153.9,174.7 154.9,174.8 155.9,174.9 156.9,174.9 157.9,175.0 158.9,175.0 159.9,175.1 160.9,175.1 161.9,175.2 162.9,175.2 163.9,175.3 164.9,175.3 165.9,175.3 166.9,175.3 167.9,175.3 168.9,175.3 169.9,175.3 170.9,175.3 171.9,175.2 172.9,175.2 173.9,175.1 174.9,175.0 175.9,175.0 176.9,174.9 177.9,174.8 178.9,174.7 179.6,174.6 180.6,174.5 181.6,174.4 182.6,174.2 183.6,174.1 184.6,174.0 185.6,173.9 186.6,173.7 187.6,173.6 188.6,173.5 189.6,173.4 190.6,173.3 191.6,173.3 192.6,173.2 193.6,173.1 194.6,173.1 195.6,173.1 196.6,173.0 197.6,173.0 198.6,172.9 199.6,172.9 200.6,172.8 201.6,172.8 202.6,172.8 203.6,172.8 204.6,172.8 205.6,172.8 206.6,172.8 207.6,172.8 208.6,172.8 209.6,172.8 210.6,172.9 211.6,172.9 212.6,172.9 213.6,172.9 214.6,173.0 215.6,173.0 216.6,173.0 217.6,173.1 218.6,173.2 219.6,173.2 220.6,173.3 221.6,173.3 222.6,173.4 223.6,173.5 224.6,173.5 225.6,173.6 226.6,173.6 227.6,173.7 228.6,173.7 229.6,173.8 230.6,173.8 231.6,173.9 232.6,173.9 233.6,174.0 234.6,174.0 235.6,174.1 236.6,174.1 237.6,174.2 238.6,174.2 239.6,174.2 240.6,174.3 241.6,174.3 242.6,174.3 243.6,174.3 244.6,174.3 245.6,174.4 246.6,174.4 247.6,174.4 248.6,174.4 249.6,174.4 250.6,174.4 251.6,174.4 252.6,174.3 253.6,174.3 254.6,174.2 255.6,174.1 256.6,174.0 257.6,173.9 258.6,173.8 259.6,173.7 260.6,173.6 261.6,173.4 262.6,173.2 263.6,173.1 264.6,172.8 265.6,172.6 266.6,172.4 267.6,172.2 268.6,172.0 268.9,171.9 271.5,167.4 275.3,143.7 279.2,139.9 285.6,138.2 291.9,137.0" fill="none" stroke="#000" stroke-width="1.2"/>
<path d="M0.0,143.9 1.0,144.3 2.0,144.7 3.0,145.1 4.0,145.5 5.0,145.9 6.0,146.3 7.0,146.7 8.0,147.1 9.0,147.5 10.0,147.9 11.0,148.3 12.0,148.7 13.0,149.0 14.0,149.4 15.0,149.8 16.0,150.1 17.0,150.4 18.0,150.8 19.0,151.1 20.0,151.5 21.0,151.8 22.0,152.1 23.0,152.4 24.0,152.8 25.0,153.1 26.0,153.4 27.0,153.7 28.0,154.0 29.0,154.3 30.0,154.6 31.0,154.9 32.0,155.2 33.0,155.5 34.0,155.8 35.0,156.1 36.0,156.5 37.0,156.8 38.0,157.2 39.0,157.6 40.0,157.9 41.0,158.3 42.0,158.7 43.0,159.1 44.0,159.4 45.0,159.8 46.0,160.2 47.0,160.6 48.0,161.0 49.0,161.4 50.0,161.8 51.0,162.2 52.0,162.6 53.0,163.1 54.0,163.5 55.0,163.9 56.0,164.3 57.0,164.6 58.0,165.0 59.0,165.4 60.0,165.7 61.0,166.1 62.0,166.4 63.0,166.8 64.0,167.1 65.0,167.4 66.0,167.8 67.0,168.1 68.0,168.4 69.0,168.8 70.0,169.1 71.0,169.4 72.0,169.8 73.0,170.1 74.0,170.4 75.0,170.8 76.0,171.1 77.0,171.4 78.0,171.7 79.0,172.1 80.0,172.4 81.0,172.7 82.0,173.0 83.0,173.3 84.0,173.5 85.0,173.8 86.0,174.1 87.0,174.3 88.0,174.6 89.0,174.8 90.0,175.1 91.0,175.3 92.0,175.5 93.0,175.7 94.0,175.9 95.0,176.1 96.0,176.2 97.0,176.4 98.0,176.6 99.0,176.7 100.0,176.9 101.0,177.0 102.0,177.2 103.0,177.3 104.0,177.4 105.0,177.5 106.0,177.6 107.0,177.7 108.0,177.8 109.0,177.9 110.0,178.0 111.0,178.0 112.0,178.1 113.0,178.2 114.0,178.2 115.0,178.3 116.0,178.3 117.0,178.3 118.0,178.4 119.0,178.4 120.0,178.4 121.0,178.4 122.0,178.4 123.0,178.4 124.0,178.4 125.0,178.4 126.0,178.3 127.0,178.3 128.0,178.2 129.0,178.2 130.0,178.1 131.0,178.1 132.0,178.0 133.0,178.0 134.0,177.9 135.0,177.9 136.0,177.9 137.0,177.8 138.0,177.8 139.0,177.7 140.0,177.7 141.0,177.7 142.0,177.6 143.0,177.6 144.0,177.6 145.0,177.5 146.0,177.5 147.0,177.4 148.0,177.4 149.0,177.3 150.0,177.3 151.0,177.2 152.0,177.2 153.0,177.1 154.0,177.0 155.0,177.0 156.0,177.0 157.0,176.9 158.0,176.9 159.0,176.8 160.0,176.8 161.0,176.8 162.0,176.7 163.0,176.7 164.0,176.6 165.0,176.6 166.0,176.5 167.0,176.5 168.0,176.4 169.0,176.3 170.0,176.2 171.0,176.2 172.0,176.1 173.0,176.0 174.0,176.0 175.0,175.9 176.0,175.8 177.0,175.7 178.0,175.6 179.0,175.5 180.0,175.4 181.0,175.3 182.0,175.1 183.0,175.0 184.0,174.8 185.0,174.7 186.0,174.5 187.0,174.4 188.0,174.3 189.0,174.1 190.0,174.0 191.0,173.9 192.0,173.8 193.0,173.8 194.0,173.7 195.0,173.7 196.0,173.6 197.0,173.6 198.0,173.5 199.0,173.5 200.0,173.5 201.0,173.4 202.0,173.4 203.0,173.4 204.0,173.4 205.0,173.4 206.0,173.4 207.0,173.4 208.0,173.4 209.0,173.4 210.0,173.5 211.0,173.5 212.0,173.5 213.0,173.5 214.0,173.6 215.0,173.6 216.0,173.6 217.0,173.7 218.0,173.7 219.0,173.8 220.0,173.8 221.0,173.9 222.0,174.0 223.0,174.0 224.0,174.1 225.0,174.2 226.0,174.2 227.0,174.3 228.0,174.3 229.0,174.4 230.0,174.4 231.0,174.5 232.0,174.5 233.0,174.6 234.0,174.6 235.0,174.6 236.0,174.7 237.0,174.7 238.0,174.8 239.0,174.8 240.0,174.8 241.0,174.9 242.0,174.9 243.0,174.9 244.0,174.9 245.0,175.0 246.0,175.0 247.0,175.0 248.0,175.0 249.0,175.0 250.0,175.0 251.0,175.0 252.0,175.0 253.0,174.9 254.0,174.8 255.0,174.7 256.0,174.7 257.0,174.6 258.0,174.5 259.0,174.4 260.0,174.3 261.0,174.1 262.0,174.0 263.0,173.8 264.0,173.6 265.0,173.4 266.0,173.1 267.0,172.9 268.0,172.7 268.9,172.5 271.5,168.0 275.3,144.3 279.2,140.5 285.6,138.8 291.9,137.6" fill="none" stroke="#ff0000" stroke-width="2.30" stroke-linejoin="round"/>
<path d="M0.0,180.6 1.0,180.7 2.0,180.8 3.0,181.0 4.0,181.1 5.0,181.2 6.0,181.3 7.0,181.5 8.0,181.6 9.0,181.7 10.0,181.8 11.0,182.0 12.0,182.1 13.0,182.2 14.0,182.3 15.0,182.5 16.0,182.6 17.0,182.7 18.0,182.8 19.0,183.0 20.0,183.1 21.0,183.2 22.0,183.3 23.0,183.5 24.0,183.6 25.0,183.7 26.0,183.9 27.0,184.0 28.0,184.1 29.0,184.2 30.0,184.4 31.0,184.5 32.0,184.6 33.0,184.8 34.0,184.9 35.0,185.0 36.0,185.1 37.0,185.2 38.0,185.4 39.0,185.4 40.0,185.5 41.0,185.6 42.0,185.7 43.0,185.8 44.0,185.9 45.0,186.0 46.0,186.0 47.0,186.1 48.0,186.2 49.0,186.3 50.0,186.4 51.0,186.5 52.0,186.5 53.0,186.6 54.0,186.7 55.0,186.7 56.0,186.8 57.0,186.9 58.0,187.0 59.0,187.0 60.0,187.1 61.0,187.1 62.0,187.2 63.0,187.2 64.0,187.3 65.0,187.3 66.0,187.3 67.0,187.3 68.0,187.4 69.0,187.4 70.0,187.4 71.0,187.4 72.0,187.5 73.0,187.5 74.0,187.5 75.0,187.5 76.0,187.5 77.0,187.5 78.0,187.5 79.0,187.5 80.0,187.6 81.0,187.6 82.0,187.6 83.0,187.6 84.0,187.6 85.0,187.6 86.0,187.6 87.0,187.6 88.0,187.6 89.0,187.6 90.0,187.7 91.0,187.7 92.0,187.7 93.0,187.7 94.0,187.7 95.0,187.7 96.0,187.7 97.0,187.7 98.0,187.7 99.0,187.7 100.0,187.7 101.0,187.8 102.0,187.8 103.0,187.8 104.0,187.8 105.0,187.8 106.0,187.8 107.0,187.8 108.0,187.8 109.0,187.8 110.0,187.8 111.0,187.8 112.0,187.9 113.0,187.9 114.0,187.9 115.0,187.9 116.0,187.9 117.0,187.9 118.0,187.9 119.0,187.9 120.0,187.9 121.0,187.9 122.0,187.9 123.0,188.0 124.0,188.0 125.0,188.0 126.0,188.0 127.0,188.0 128.0,188.0 129.0,188.0 130.0,188.0 131.0,188.0 132.0,188.0 133.0,188.0 134.0,188.0 135.0,188.0 136.0,188.0 137.0,188.0 138.0,188.0 139.0,188.0 140.0,188.0 141.0,188.0 142.0,188.0 143.0,188.0 144.0,188.0 145.0,188.0 146.0,188.0 147.0,188.0 148.0,188.1 149.0,188.1 150.0,188.1 151.0,188.1 152.0,188.1 153.0,188.1 154.0,188.1 155.0,188.1 156.0,188.1 157.0,188.1 158.0,188.1 159.0,188.1 160.0,188.1 161.0,188.1 162.0,188.1 163.0,188.1 164.0,188.1 165.0,188.1 166.0,188.1 167.0,188.1 168.0,188.1 169.0,188.1 170.0,188.1 171.0,188.1 172.0,188.1 173.0,188.1 174.0,188.1 175.0,188.1 176.0,188.1 177.0,188.1 178.0,188.1 179.0,188.1 180.0,188.1 181.0,188.1 182.0,188.1 183.0,188.1 184.0,188.1 185.0,188.1 186.0,188.1 187.0,188.1 188.0,188.2 189.0,188.2 190.0,188.2 191.0,188.2 192.0,188.2 193.0,188.2 194.0,188.2 195.0,188.2 196.0,188.2 197.0,188.2 198.0,188.2 199.0,188.2 200.0,188.2 201.0,188.2 202.0,188.2 203.0,188.2 204.0,188.2 205.0,188.2 206.0,188.2 207.0,188.2 208.0,188.2 209.0,188.2 210.0,188.2 211.0,188.2 212.0,188.2 213.0,188.2 214.0,188.2 215.0,188.2 216.0,188.2 217.0,188.2 218.0,188.2 219.0,188.2 220.0,188.2 221.0,188.2 222.0,188.2 223.0,188.2 224.0,188.2 225.0,188.2 226.0,188.2 227.0,188.2 228.0,188.2 229.0,188.1 230.0,188.1 231.0,188.1 232.0,188.1 233.0,188.1 234.0,188.1 235.0,188.1 236.0,188.1 237.0,188.1 238.0,188.1 239.0,188.1 240.0,188.1 241.0,188.1 242.0,188.1 243.0,188.1 244.0,188.1 245.0,188.1 246.0,188.1 247.0,188.1 248.0,188.1 249.0,188.1 250.0,188.1 251.0,188.1 252.0,188.1 253.0,188.1 254.0,188.1 255.0,188.1 256.0,188.1 257.0,188.1 258.0,188.1 259.0,188.1 260.0,188.1 261.0,188.1 262.0,188.1 263.0,188.1 264.0,188.1 265.0,188.1 266.0,188.1 267.0,188.1 268.0,188.1 269.0,188.1 270.0,188.1 271.0,188.0 272.0,188.0 273.0,188.0 274.0,188.0 275.0,188.0 276.0,188.0 277.0,188.0 278.0,188.0 279.0,188.0 280.0,188.0 281.0,188.0 282.0,188.0 283.0,188.0 284.0,188.0 285.0,188.0 286.0,188.0 287.0,188.0 288.0,188.0 289.0,188.0 290.0,188.0 291.0,188.0 291.9,188.0" fill="none" stroke="#ff00ff" stroke-width="1.80" stroke-dasharray="3.10 1.86 0.62 1.86 0.62 1.86 0.62 1.86" stroke-linejoin="round"/>
<path d="M0.0,142.2 1.0,142.2 2.0,142.1 3.0,142.1 4.0,142.0 5.0,142.0 6.0,142.0 7.0,141.9 8.0,141.9 9.0,141.9 10.0,142.0 11.0,142.2 12.0,142.4 13.0,142.7 14.0,143.1 15.0,143.6 16.0,144.2 17.0,144.7 18.0,145.3 19.0,146.0 20.0,146.6 21.0,147.3 22.0,148.0 23.0,148.7 24.0,149.4 25.0,150.1 26.0,150.8 27.0,151.5 28.0,152.2 29.0,152.9 30.0,153.6 31.0,154.3 32.0,155.0 33.0,155.8 34.0,156.5 35.0,157.1 36.0,157.8 37.0,158.4 38.0,159.0 39.0,159.5 40.0,160.1 41.0,160.6 42.0,161.1 43.0,161.6 44.0,162.1 45.0,162.6 46.0,163.1 47.0,163.6 48.0,164.1 49.0,164.6 50.0,165.1 51.0,165.5 52.0,166.0 53.0,166.5 54.0,166.9 55.0,167.4 56.0,167.8 57.0,168.2 58.0,168.7 59.0,169.1 60.0,169.5 61.0,169.9 62.0,170.3 63.0,170.6 64.0,171.0 65.0,171.4 66.0,171.8 67.0,172.1 68.0,172.5 69.0,172.8 70.0,173.2 71.0,173.5 72.0,173.8 73.0,174.2 74.0,174.5 75.0,174.8 76.0,175.1 77.0,175.4 78.0,175.7 79.0,176.0 80.0,176.2 81.0,176.5 82.0,176.8 83.0,177.1 84.0,177.4 85.0,177.7 86.0,178.0 87.0,178.3 88.0,178.6 89.0,178.9 90.0,179.2 91.0,179.4 92.0,179.7 93.0,179.9 94.0,180.2 95.0,180.4 96.0,180.6 97.0,180.8 98.0,181.0 99.0,181.1 100.0,181.3 101.0,181.4 102.0,181.6 103.0,181.7 104.0,181.8 105.0,181.9 106.0,182.0 107.0,182.2 108.0,182.3 109.0,182.4 110.0,182.5 111.0,182.6 112.0,182.6 113.0,182.7 114.0,182.8 115.0,182.9 116.0,183.0 117.0,183.1 118.0,183.1 119.0,183.2 120.0,183.3 121.0,183.4 122.0,183.5 123.0,183.6 124.0,183.6 125.0,183.7 126.0,183.8 127.0,183.9 128.0,184.0 129.0,184.1 130.0,184.2 131.0,184.3 132.0,184.4 133.0,184.5 134.0,184.6 135.0,184.7 136.0,184.8 137.0,184.9 138.0,185.0 139.0,185.0 140.0,185.1 141.0,185.2 142.0,185.3 143.0,185.3 144.0,185.4 145.0,185.5 146.0,185.6 147.0,185.6 148.0,185.7 149.0,185.8 150.0,185.9 151.0,185.9 152.0,186.0 153.0,186.1 154.0,186.1 155.0,186.2 156.0,186.3 157.0,186.3 158.0,186.4 159.0,186.5 160.0,186.5 161.0,186.6 162.0,186.6 163.0,186.7 164.0,186.8 165.0,186.8 166.0,186.9 167.0,186.9 168.0,187.0 169.0,187.1 170.0,187.1 171.0,187.2 172.0,187.2 173.0,187.3 174.0,187.4 175.0,187.4 176.0,187.5 177.0,187.5 178.0,187.6 179.0,187.6 180.0,187.7 181.0,187.7 182.0,187.7 183.0,187.7 184.0,187.7 185.0,187.7 186.0,187.8 187.0,187.8 188.0,187.8 189.0,187.8 190.0,187.8 191.0,187.8 192.0,187.8 193.0,187.8 194.0,187.8 195.0,187.8 196.0,187.8 197.0,187.8 198.0,187.9 199.0,187.9 200.0,187.9 201.0,187.9 202.0,187.9 203.0,187.9 204.0,187.9 205.0,187.9 206.0,187.9 207.0,187.9 208.0,187.9 209.0,187.9 210.0,188.0 211.0,188.0 212.0,188.0 213.0,188.0 214.0,188.0 215.0,188.0 216.0,188.0 217.0,188.0 218.0,188.0 219.0,188.0 220.0,188.0 221.0,188.0 222.0,188.1 223.0,188.1 224.0,188.1 225.0,188.1 226.0,188.1 227.0,188.1 228.0,188.1 229.0,188.1 230.0,188.1 231.0,188.1 232.0,188.1 233.0,188.1 234.0,188.1 235.0,188.1 236.0,188.2 237.0,188.2 238.0,188.2 239.0,188.2 240.0,188.2 241.0,188.2 242.0,188.2 243.0,188.2 244.0,188.2 245.0,188.2 246.0,188.2 247.0,188.2 248.0,188.2 249.0,188.2 250.0,188.2 251.0,188.2 252.0,188.3 253.0,188.3 254.0,188.3 255.0,188.3 256.0,188.3 257.0,188.3 258.0,188.3 259.0,188.3 260.0,188.3 261.0,188.3 262.0,188.3 263.0,188.3 264.0,188.3 265.0,188.3 266.0,188.3 267.0,188.3 268.0,188.4 269.0,188.4 270.0,188.4 271.0,188.4 272.0,188.4 273.0,188.4 274.0,188.4 275.0,188.4 276.0,188.4 277.0,188.4 278.0,188.4 279.0,188.4 280.0,188.4 281.0,188.4 282.0,188.4 283.0,188.4 284.0,188.5 285.0,188.5 286.0,188.5 287.0,188.5 288.0,188.5 289.0,188.5 290.0,188.5 291.0,188.5 291.9,188.5" fill="none" stroke="#0000ff" stroke-width="2.20" stroke-dasharray="1.86 1.86" stroke-linejoin="round"/>
<path d="M0.0,164.6 1.0,164.6 2.0,164.7 3.0,164.7 4.0,164.7 5.0,164.7 6.0,164.8 7.0,164.8 8.0,164.8 9.0,164.8 10.0,164.9 11.0,164.9 12.0,164.9 13.0,164.9 14.0,165.0 15.0,165.0 16.0,165.0 17.0,165.0 18.0,165.1 19.0,165.1 20.0,165.2 21.0,165.3 22.0,165.3 23.0,165.4 24.0,165.5 25.0,165.6 26.0,165.8 27.0,165.9 28.0,166.0 29.0,166.2 30.0,166.4 31.0,166.6 32.0,166.7 33.0,166.9 34.0,167.1 35.0,167.3 36.0,167.5 37.0,167.8 38.0,168.0 39.0,168.2 40.0,168.5 41.0,168.7 42.0,169.0 43.0,169.2 44.0,169.5 45.0,169.7 46.0,170.0 47.0,170.3 48.0,170.5 49.0,170.8 50.0,171.0 51.0,171.3 52.0,171.5 53.0,171.7 54.0,172.0 55.0,172.2 56.0,172.4 57.0,172.6 58.0,172.8 59.0,173.0 60.0,173.2 61.0,173.4 62.0,173.5 63.0,173.7 64.0,173.9 65.0,174.0 66.0,174.2 67.0,174.4 68.0,174.5 69.0,174.7 70.0,174.9 71.0,175.1 72.0,175.2 73.0,175.4 74.0,175.7 75.0,175.9 76.0,176.1 77.0,176.3 78.0,176.6 79.0,176.8 80.0,177.1 81.0,177.3 82.0,177.5 83.0,177.7 84.0,177.9 85.0,178.1 86.0,178.3 87.0,178.4 88.0,178.6 89.0,178.7 90.0,178.9 91.0,179.0 92.0,179.1 93.0,179.2 94.0,179.3 95.0,179.4 96.0,179.5 97.0,179.6 98.0,179.7 99.0,179.8 100.0,179.9 101.0,180.0 102.0,180.1 103.0,180.2 104.0,180.2 105.0,180.3 106.0,180.4 107.0,180.4 108.0,180.5 109.0,180.5 110.0,180.6 111.0,180.6 112.0,180.7 113.0,180.7 114.0,180.7 115.0,180.8 116.0,180.8 117.0,180.8 118.0,180.9 119.0,180.9 120.0,181.0 121.0,181.1 122.0,181.2 123.0,181.3 124.0,181.4 125.0,181.5 126.0,181.6 127.0,181.7 128.0,181.8 129.0,181.9 130.0,182.0 131.0,182.1 132.0,182.2 133.0,182.3 134.0,182.4 135.0,182.5 136.0,182.6 137.0,182.7 138.0,182.8 139.0,182.9 140.0,183.0 141.0,183.1 142.0,183.1 143.0,183.2 144.0,183.3 145.0,183.4 146.0,183.5 147.0,183.6 148.0,183.7 149.0,183.8 150.0,183.9 151.0,184.0 152.0,184.1 153.0,184.1 154.0,184.2 155.0,184.3 156.0,184.4 157.0,184.4 158.0,184.5 159.0,184.5 160.0,184.6 161.0,184.6 162.0,184.7 163.0,184.7 164.0,184.8 165.0,184.8 166.0,184.9 167.0,184.9 168.0,185.0 169.0,185.0 170.0,185.1 171.0,185.2 172.0,185.2 173.0,185.3 174.0,185.3 175.0,185.4 176.0,185.4 177.0,185.5 178.0,185.5 179.0,185.5 180.0,185.6 181.0,185.6 182.0,185.6 183.0,185.6 184.0,185.7 185.0,185.7 186.0,185.7 187.0,185.7 188.0,185.7 189.0,185.7 190.0,185.8 191.0,185.8 192.0,185.8 193.0,185.8 194.0,185.8 195.0,185.8 196.0,185.8 197.0,185.9 198.0,185.9 199.0,185.9 200.0,185.9 201.0,185.9 202.0,185.9 203.0,185.9 204.0,186.0 205.0,186.0 206.0,186.0 207.0,186.0 208.0,186.0 209.0,186.0 210.0,186.0 211.0,186.1 212.0,186.1 213.0,186.1 214.0,186.1 215.0,186.1 216.0,186.1 217.0,186.1 218.0,186.2 219.0,186.2 220.0,186.2 221.0,186.2 222.0,186.2 223.0,186.2 224.0,186.2 225.0,186.3 226.0,186.3 227.0,186.3 228.0,186.3 229.0,186.3 230.0,186.3 231.0,186.3 232.0,186.3 233.0,186.3 234.0,186.3 235.0,186.4 236.0,186.4 237.0,186.4 238.0,186.4 239.0,186.4 240.0,186.4 241.0,186.4 242.0,186.4 243.0,186.4 244.0,186.4 245.0,186.4 246.0,186.4 247.0,186.5 248.0,186.5 249.0,186.5 250.0,186.5 251.0,186.5 252.0,186.5 253.0,186.5 254.0,186.5 255.0,186.5 256.0,186.5 257.0,186.5 258.0,186.5 259.0,186.5 260.0,186.6 261.0,186.6 262.0,186.6 263.0,186.6 264.0,186.6 265.0,186.6 266.0,186.6 267.0,186.6 268.0,186.6 269.0,186.6 270.0,186.6 271.0,186.6 272.0,186.6 273.0,186.7 274.0,186.7 275.0,186.7 276.0,186.7 277.0,186.7 278.0,186.7 279.0,186.7 280.0,186.7 281.0,186.7 282.0,186.7 283.0,186.7 284.0,186.7 285.0,186.7 286.0,186.8 287.0,186.8 288.0,186.8 289.0,186.8 290.0,186.8 291.0,186.8 291.9,186.8" fill="none" stroke="#1fc21f" stroke-width="2.00" stroke-dasharray="1 1" stroke-dashoffset="0.5" stroke-linejoin="round"/>
<path d="M0.0,138.5 1.0,139.3 2.0,140.1 3.0,140.9 4.0,141.7 5.0,142.5 6.0,143.3 7.0,144.0 8.0,144.8 9.0,145.6 10.0,146.3 11.0,147.1 12.0,147.8 13.0,148.6 14.0,149.3 15.0,150.1 16.0,150.8 17.0,151.5 18.0,152.2 19.0,152.9 20.0,153.6 21.0,154.2 22.0,154.9 23.0,155.5 24.0,156.1 25.0,156.7 26.0,157.3 27.0,157.8 28.0,158.4 29.0,158.9 30.0,159.5 31.0,160.0 32.0,160.5 33.0,161.0 34.0,161.5 35.0,162.0 36.0,162.5 37.0,163.0 38.0,163.5 39.0,163.9 40.0,164.4 41.0,164.8 42.0,165.3 43.0,165.7 44.0,166.1 45.0,166.5 46.0,166.9 47.0,167.3 48.0,167.7 49.0,168.1 50.0,168.4 51.0,168.8 52.0,169.2 53.0,169.6 54.0,170.0 55.0,170.4 56.0,170.8 57.0,171.1 58.0,171.5 59.0,171.8 60.0,172.1 61.0,172.4 62.0,172.7 63.0,173.0 64.0,173.3 65.0,173.6 66.0,173.9 67.0,174.1 68.0,174.4 69.0,174.7 70.0,174.9 71.0,175.2 72.0,175.4 73.0,175.7 74.0,175.9 75.0,176.2 76.0,176.4 77.0,176.7 78.0,176.9 79.0,177.2 80.0,177.4 81.0,177.7 82.0,178.0 83.0,178.2 84.0,178.5 85.0,178.8 86.0,179.1 87.0,179.4 88.0,179.7 89.0,179.9 90.0,180.1 91.0,180.4 92.0,180.6 93.0,180.8 94.0,181.0 95.0,181.1 96.0,181.3 97.0,181.4 98.0,181.6 99.0,181.7 100.0,181.8 101.0,181.9 102.0,182.1 103.0,182.2 104.0,182.3 105.0,182.4 106.0,182.5 107.0,182.7 108.0,182.8 109.0,182.9 110.0,183.0 111.0,183.1 112.0,183.2 113.0,183.4 114.0,183.5 115.0,183.6 116.0,183.7 117.0,183.8 118.0,183.9 119.0,184.1 120.0,184.2 121.0,184.3 122.0,184.4 123.0,184.5 124.0,184.6 125.0,184.6 126.0,184.7 127.0,184.8 128.0,184.8 129.0,184.9 130.0,184.9 131.0,185.0 132.0,185.0 133.0,185.1 134.0,185.1 135.0,185.2 136.0,185.2 137.0,185.3 138.0,185.3 139.0,185.4 140.0,185.4 141.0,185.5 142.0,185.5 143.0,185.6 144.0,185.6 145.0,185.7 146.0,185.7 147.0,185.8 148.0,185.8 149.0,185.9 150.0,185.9 151.0,186.0 152.0,186.0 153.0,186.1 154.0,186.1 155.0,186.2 156.0,186.2 157.0,186.3 158.0,186.3 159.0,186.3 160.0,186.4 161.0,186.4 162.0,186.4 163.0,186.4 164.0,186.5 165.0,186.5 166.0,186.5 167.0,186.5 168.0,186.5 169.0,186.6 170.0,186.6 171.0,186.6 172.0,186.6 173.0,186.7 174.0,186.7 175.0,186.7 176.0,186.7 177.0,186.8 178.0,186.8 179.0,186.8 180.0,186.8 181.0,186.9 182.0,186.9 183.0,186.9 184.0,186.9 185.0,187.0 186.0,187.0 187.0,187.0 188.0,187.0 189.0,187.1 190.0,187.1 191.0,187.1 192.0,187.1 193.0,187.1 194.0,187.2 195.0,187.2 196.0,187.2 197.0,187.2 198.0,187.3 199.0,187.3 200.0,187.3 201.0,187.3 202.0,187.4 203.0,187.4 204.0,187.4 205.0,187.4 206.0,187.5 207.0,187.5 208.0,187.5 209.0,187.5 210.0,187.5 211.0,187.5 212.0,187.6 213.0,187.6 214.0,187.6 215.0,187.6 216.0,187.6 217.0,187.6 218.0,187.6 219.0,187.6 220.0,187.6 221.0,187.7 222.0,187.7 223.0,187.7 224.0,187.7 225.0,187.7 226.0,187.7 227.0,187.7 228.0,187.7 229.0,187.8 230.0,187.8 231.0,187.8 232.0,187.8 233.0,187.8 234.0,187.8 235.0,187.8 236.0,187.8 237.0,187.8 238.0,187.9 239.0,187.9 240.0,187.9 241.0,187.9 242.0,187.9 243.0,187.9 244.0,187.9 245.0,187.9 246.0,188.0 247.0,188.0 248.0,188.0 249.0,188.0 250.0,188.0 251.0,188.0 252.0,188.0 253.0,188.0 254.0,188.1 255.0,188.1 256.0,188.1 257.0,188.1 258.0,188.1 259.0,188.1 260.0,188.1 261.0,188.1 262.0,188.1 263.0,188.2 264.0,188.2 265.0,188.2 266.0,188.2 267.0,188.2 268.0,188.2 269.0,188.2 270.0,188.2 271.0,188.3 272.0,188.3 273.0,188.3 274.0,188.3 275.0,188.3 276.0,188.3 277.0,188.3 278.0,188.3 279.0,188.3 280.0,188.4 281.0,188.4 282.0,188.4 283.0,188.4 284.0,188.4 285.0,188.4 286.0,188.4 287.0,188.4 288.0,188.5 289.0,188.5 290.0,188.5 291.0,188.5 291.9,188.5" fill="none" stroke="#999999" stroke-width="1.90" stroke-dasharray="1.86 2.48 0.62 2.48" stroke-linejoin="round"/>
<path d="M0.0,190.7 291.9,190.4" fill="none" stroke="#ff6600" stroke-width="1.80" stroke-dasharray="3.10 1.86 0.62 1.86" stroke-linejoin="round"/>
<text x="-1.50" y="195.30" font-size="11.00" text-anchor="end" >0</text>
<text x="-1.50" y="156.46" font-size="11.00" text-anchor="end" >0.02</text>
<text x="-1.50" y="118.32" font-size="11.00" text-anchor="end" >0.04</text>
<text x="-1.50" y="80.18" font-size="11.00" text-anchor="end" >0.06</text>
<text x="-1.50" y="42.04" font-size="11.00" text-anchor="end" >0.08</text>
<text x="-1.50" y="3.90" font-size="11.00" text-anchor="end" >0.1</text>
<text x="9.50" y="205.90" font-size="11.00" text-anchor="middle" >20</text>
<text x="33.21" y="205.90" font-size="11.00" text-anchor="middle" >30</text>
<text x="50.03" y="205.90" font-size="11.00" text-anchor="middle" >40</text>
<text x="103.60" y="205.90" font-size="11.00" text-anchor="middle">10<tspan dy="-5.2" font-size="8.00">2</tspan></text>
<text x="144.13" y="205.90" font-size="11.00" text-anchor="middle">2&#215;10<tspan dy="-5.2" font-size="8.00">2</tspan></text>
<text x="238.23" y="205.90" font-size="11.00" text-anchor="middle">10<tspan dy="-5.2" font-size="8.00">3</tspan></text>
<text x="278.75" y="205.90" font-size="11.00" text-anchor="middle">2&#215;10<tspan dy="-5.2" font-size="8.00">3</tspan></text>
<text x="291.80" y="220.1" font-size="11.00" text-anchor="end"><tspan font-style="italic">p</tspan><tspan font-size="8.3" dy="6.0">T</tspan><tspan font-size="7.7" dx="-4.7" dy="-11.6">jet</tspan><tspan dy="5.6"> [GeV]</tspan></text>
<text transform="translate(-32.3,0.3) rotate(-90)" font-size="11.00" text-anchor="end">Fractional JES uncertainty</text>
<text class="h" y="15.2" font-size="9.50"><tspan x="10.4">Anti-</tspan><tspan font-style="italic">k</tspan><tspan font-size="5.6" dx="1.2" dy="2.6">t</tspan><tspan dx="-1.0" dy="-2.6">,</tspan><tspan x="40.4" font-style="italic">R</tspan><tspan x="50.35">= 0.4,</tspan><tspan x="76.80">LCW+JES + </tspan><tspan font-style="italic">in situ</tspan> correction</text>
<text class="h" y="26.9" font-size="9.50"><tspan x="10.1">Data 2012,</tspan><tspan x="63.4" font-style="italic">s</tspan> = 8 TeV</text>
<path d="M59.5,24.0 L60.6,27.0 L61.2,18.6" fill="none" stroke="#000" stroke-width="1.1"/>
<path d="M61.2,18.6 L68.4,18.6" fill="none" stroke="#000" stroke-width="0.7"/>
<text class="h" x="10.2" y="38.9" font-size="9.50">&#951; = 0.0</text>
<text x="284.70" y="16.7" font-size="11.30" font-weight="bold" font-style="italic" text-anchor="end">ATLAS</text>
<rect x="93.00" y="38.6" width="16" height="6.6" fill="#ccccff" stroke="#000" stroke-width="1.1"/>
<text x="112.00" y="44.30" font-size="8.00" text-anchor="start" >Total uncertainty</text>
<path d="M93.40,53.10H108.20" stroke="#ff0000" stroke-width="2.30"/>
<text x="112.00" y="56.20" font-size="8.00" text-anchor="start" >Absolute <tspan font-style="italic">in situ</tspan> JES</text>
<path d="M93.40,63.50H108.20" stroke="#ff00ff" stroke-width="1.80" stroke-dasharray="3.10 1.86 0.62 1.86 0.62 1.86 0.62 1.86"/>
<text x="112.00" y="66.70" font-size="8.00" text-anchor="start" >Relative <tspan font-style="italic">in situ</tspan> JES</text>
<path d="M93.40,74.30H108.20" stroke="#0000ff" stroke-width="2.20" stroke-dasharray="1.86 1.86"/>
<text x="112.00" y="76.70" font-size="8.00" text-anchor="start" >Flav. composition, unknown composition</text>
<path d="M93.40,85.10H108.20" stroke="#1fc21f" stroke-width="2.00" stroke-dasharray="1 1"/>
<text x="112.00" y="87.20" font-size="8.00" text-anchor="start" >Flav. response, unknown composition</text>
<path d="M93.40,95.40H108.20" stroke="#999999" stroke-width="1.90" stroke-dasharray="1.86 2.48 0.62 2.48"/>
<text x="112.00" y="97.70" font-size="8.00" text-anchor="start" >Pile-up, average 2012 conditions</text>
<path d="M93.40,106.20H108.20" stroke="#ff6600" stroke-width="1.80" stroke-dasharray="3.10 1.86 0.62 1.86"/>
<text x="112.00" y="108.10" font-size="8.00" text-anchor="start" >Punch-through, average 2012 conditions</text>
</g>
<g transform="translate(0,257.80) scale(1,1.12)"><text x="98.60" y="0" font-family="'Liberation Serif', serif" font-size="15.60" font-weight="bold">(a)</text><text x="125.80" y="0" font-family="'Liberation Serif', serif" font-size="15.60" textLength="114.10" lengthAdjust="spacingAndGlyphs">EM in dijet events</text></g>
<g transform="translate(0,257.80) scale(1,1.12)"><text x="442.10" y="0" font-family="'Liberation Serif', serif" font-size="15.60" font-weight="bold">(b)</text><text x="472.00" y="0" font-family="'Liberation Serif', serif" font-size="15.60" textLength="126.40" lengthAdjust="spacingAndGlyphs">LCW in dijet events</text></g>
<g transform="translate(0,543.60) scale(1,1.12)"><text x="47.40" y="0" font-family="'Liberation Serif', serif" font-size="15.60" font-weight="bold">(c)</text><text x="69.60" y="0" font-family="'Liberation Serif', serif" font-size="15.60" textLength="226.80" lengthAdjust="spacingAndGlyphs">EM in unknown composition events</text></g>
<g transform="translate(0,543.60) scale(1,1.12)"><text x="390.90" y="0" font-family="'Liberation Serif', serif" font-size="15.60" font-weight="bold">(d)</text><text x="415.80" y="0" font-family="'Liberation Serif', serif" font-size="15.60" textLength="239.20" lengthAdjust="spacingAndGlyphs">LCW in unknown composition events</text></g>
</svg>
</body></html>
